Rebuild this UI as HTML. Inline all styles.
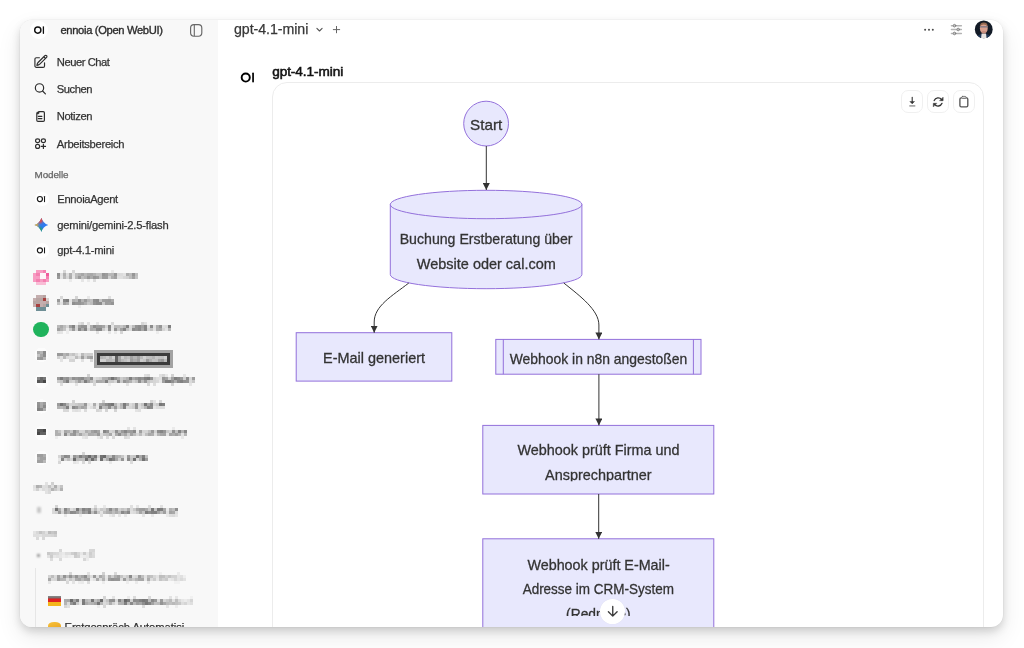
<!DOCTYPE html>
<html><head><meta charset="utf-8">
<style>
*{box-sizing:border-box;margin:0;padding:0}
html,body{width:1024px;height:648px;overflow:hidden;background:#fff;font-family:"Liberation Sans",sans-serif;color:#1a1a1a}
.win{position:absolute;left:20px;top:19.5px;width:983px;height:607.5px;border-radius:12px;overflow:hidden;background:#fff;box-shadow:0 0 0 0.5px rgba(0,0,0,.045),0 4px 9px rgba(0,0,0,.15),0 10px 24px rgba(0,0,0,.09)}
.pg{position:absolute;left:-20px;top:-19.5px;width:1024px;height:648px;will-change:transform}
.sb{position:absolute;left:20px;top:19px;width:198px;height:610px;background:#f8f8f8}
.t{position:absolute;white-space:nowrap;line-height:1;-webkit-text-stroke:0.25px currentColor}
.ic{position:absolute}
.blur{filter:blur(1.1px)}
svg{position:absolute;left:0;top:0;overflow:visible}
</style></head><body>
<div class="win"><div class="pg">
<div class="sb"></div>
<div class="ic" style="left:30px;top:21px;width:18px;height:18px;border-radius:50%;background:#fff"></div>
<svg width="1024" height="648"><g transform="translate(34,26.2) scale(1)"><circle cx="3.8" cy="3.85" r="3.1" fill="none" stroke="#111" stroke-width="1.45"/><rect x="8.75" y="0" width="1.3" height="7.7" rx="0.6" fill="#111"/></g></svg>
<div class="t" style="left:60.50px;top:24.53px;font-size:11.2px;letter-spacing:-0.347px;color:#2c2c2c;-webkit-text-stroke:0.35px #2c2c2c;">ennoia (Open WebUI)</div>
<svg width="1024" height="648"><rect x="190.6" y="24.6" width="11.2" height="11.6" rx="3.4" fill="none" stroke="#666" stroke-width="1.15"/><line x1="194.3" y1="24.8" x2="194.3" y2="36" stroke="#666" stroke-width="1.1"/></svg>
<div class="t" style="left:56.80px;top:56.63px;font-size:11.2px;letter-spacing:-0.454px;color:#333;">Neuer Chat</div>
<div class="t" style="left:56.80px;top:83.83px;font-size:11.2px;letter-spacing:-0.454px;color:#333;">Suchen</div>
<div class="t" style="left:56.80px;top:111.13px;font-size:11.2px;letter-spacing:-0.378px;color:#333;">Notizen</div>
<div class="t" style="left:56.80px;top:138.53px;font-size:11.2px;letter-spacing:-0.290px;color:#333;">Arbeitsbereich</div>
<svg width="1024" height="648" fill="none" stroke="#2e2e2e" stroke-linecap="round" stroke-linejoin="round">
<g transform="translate(33,53.9) scale(0.64)" stroke-width="1.85"><path d="m16.862 4.487 1.687-1.688a1.875 1.875 0 1 1 2.652 2.652L10.582 16.07a4.5 4.5 0 0 1-1.897 1.13L6 18l.8-2.685a4.5 4.5 0 0 1 1.13-1.897l8.932-8.931Zm0 0L19.5 7.125M18 14v4.75A2.25 2.25 0 0 1 15.75 21H5.25A2.25 2.25 0 0 1 3 18.75V8.25A2.25 2.25 0 0 1 5.25 6H10"/></g>
<g stroke-width="1.2"><circle cx="39.5" cy="87.9" r="4.15"/><path d="M42.6 91 L45.4 93.9"/></g>
<g stroke-width="1.2"><path d="M38.9 111.6 H43.2 a1.2 1.2 0 0 1 1.2 1.2 V120.2 a1.2 1.2 0 0 1 -1.2 1.2 H38 a1.2 1.2 0 0 1 -1.2 -1.2 V113.9 Z"/><path d="M38.3 116.3 H41.9 M38.3 118.6 H41.9"/></g>
<path d="M37.2 112.3 L39 112.1 L38.9 113.6 L37.3 113.8 Z" fill="#2e2e2e" stroke-width="0.8"/>
<g stroke-width="1.2"><ellipse cx="37.6" cy="140.7" rx="2.05" ry="1.85"/><ellipse cx="43.4" cy="140.7" rx="2.05" ry="1.85"/><ellipse cx="37.6" cy="146.4" rx="2.05" ry="1.95"/><path d="M43.4 144.3 V148.5 M41.3 146.4 H45.5"/></g>
</svg>
<div class="t" style="left:34.60px;top:169.73px;font-size:9.9px;letter-spacing:-0.108px;color:#666;">Modelle</div>
<div class="t" style="left:57.30px;top:194.03px;font-size:11.2px;letter-spacing:-0.322px;color:#333;">EnnoiaAgent</div>
<div class="t" style="left:57.30px;top:219.73px;font-size:11.2px;letter-spacing:-0.196px;color:#333;">gemini/gemini-2.5-flash</div>
<div class="t" style="left:57.30px;top:245.33px;font-size:11.2px;letter-spacing:-0.203px;color:#333;">gpt-4.1-mini</div>
<div class="ic" style="left:34.6px;top:192.1px;width:14.2px;height:14.2px;border-radius:50%;background:#fff"></div>
<svg width="1024" height="648"><g transform="translate(36.8,195.9) scale(0.82)"><circle cx="3.8" cy="3.85" r="3.1" fill="none" stroke="#1a1a1a" stroke-width="1.45"/><rect x="8.75" y="0" width="1.3" height="7.7" rx="0.6" fill="#1a1a1a"/></g></svg>
<div class="ic" style="left:34.6px;top:243.4px;width:14.2px;height:14.2px;border-radius:50%;background:#fff"></div>
<svg width="1024" height="648"><g transform="translate(36.8,247.20000000000002) scale(0.82)"><circle cx="3.8" cy="3.85" r="3.1" fill="none" stroke="#1a1a1a" stroke-width="1.45"/><rect x="8.75" y="0" width="1.3" height="7.7" rx="0.6" fill="#1a1a1a"/></g></svg>
<svg width="1024" height="648"><defs><clipPath id="gst"><path d="M41.4 217.8 Q42.95 223.4 48.3 225 Q42.95 226.6 41.4 232.1 Q39.85 226.6 34.4 225 Q39.85 223.4 41.4 217.8 Z"/></clipPath>
<filter id="gbl" x="-50%" y="-50%" width="200%" height="200%"><feGaussianBlur stdDeviation="1.1"/></filter></defs>
<g clip-path="url(#gst)"><rect x="33" y="216" width="17" height="17" fill="#2f7bf0"/>
<g filter="url(#gbl)"><ellipse cx="39.8" cy="219.2" rx="3.2" ry="4" fill="#ec4a3c"/><ellipse cx="34.8" cy="225" rx="3.4" ry="2.8" fill="#f5b52a"/><ellipse cx="39" cy="230.4" rx="3.2" ry="3.4" fill="#22a35a"/></g></g>
</svg>
<svg width="1024" height="648" shape-rendering="crispEdges" style="filter:blur(0.6px)"><rect x="36.40" y="269.60" width="3.1" height="3.1" fill="#f79cc2"/><rect x="39.50" y="269.60" width="3.1" height="3.1" fill="#f79cc2"/><rect x="42.60" y="269.60" width="3.1" height="3.1" fill="#f47fb0"/><rect x="33.30" y="272.70" width="3.1" height="3.1" fill="#f79cc2"/><rect x="36.40" y="272.70" width="3.1" height="3.1" fill="#f47fb0"/><rect x="39.50" y="272.70" width="3.1" height="3.1" fill="#fdf5f8"/><rect x="42.60" y="272.70" width="3.1" height="3.1" fill="#fdf5f8"/><rect x="45.70" y="272.70" width="3.1" height="3.1" fill="#ef5b9c"/><rect x="33.30" y="275.80" width="3.1" height="3.1" fill="#f79cc2"/><rect x="36.40" y="275.80" width="3.1" height="3.1" fill="#f79cc2"/><rect x="39.50" y="275.80" width="3.1" height="3.1" fill="#fdf5f8"/><rect x="42.60" y="275.80" width="3.1" height="3.1" fill="#fdf5f8"/><rect x="45.70" y="275.80" width="3.1" height="3.1" fill="#f47fb0"/><rect x="33.30" y="278.90" width="3.1" height="3.1" fill="#f79cc2"/><rect x="36.40" y="278.90" width="3.1" height="3.1" fill="#f47fb0"/><rect x="39.50" y="278.90" width="3.1" height="3.1" fill="#f79cc2"/><rect x="42.60" y="278.90" width="3.1" height="3.1" fill="#f47fb0"/><rect x="45.70" y="278.90" width="3.1" height="3.1" fill="#f79cc2"/><rect x="36.40" y="282.00" width="3.1" height="3.1" fill="#f9bcd5"/><rect x="39.50" y="282.00" width="3.1" height="3.1" fill="#f9bcd5"/><rect x="42.60" y="282.00" width="3.1" height="3.1" fill="#f9bcd5"/><rect x="36.40" y="295.00" width="3.1" height="3.1" fill="#c4aeae"/><rect x="39.50" y="295.00" width="3.1" height="3.1" fill="#c4aeae"/><rect x="42.60" y="295.00" width="3.1" height="3.1" fill="#b7a4a2"/><rect x="33.30" y="298.10" width="3.1" height="3.1" fill="#c4aeae"/><rect x="36.40" y="298.10" width="3.1" height="3.1" fill="#b7a4a2"/><rect x="39.50" y="298.10" width="3.1" height="3.1" fill="#b7a4a2"/><rect x="42.60" y="298.10" width="3.1" height="3.1" fill="#a8403e"/><rect x="45.70" y="298.10" width="3.1" height="3.1" fill="#d8d2d0"/><rect x="33.30" y="301.20" width="3.1" height="3.1" fill="#b7a4a2"/><rect x="36.40" y="301.20" width="3.1" height="3.1" fill="#b7a4a2"/><rect x="39.50" y="301.20" width="3.1" height="3.1" fill="#c4aeae"/><rect x="42.60" y="301.20" width="3.1" height="3.1" fill="#c4aeae"/><rect x="45.70" y="301.20" width="3.1" height="3.1" fill="#b7a4a2"/><rect x="33.30" y="304.30" width="3.1" height="3.1" fill="#c4aeae"/><rect x="36.40" y="304.30" width="3.1" height="3.1" fill="#a8403e"/><rect x="39.50" y="304.30" width="3.1" height="3.1" fill="#c4aeae"/><rect x="42.60" y="304.30" width="3.1" height="3.1" fill="#b7a4a2"/><rect x="45.70" y="304.30" width="3.1" height="3.1" fill="#6f8f96"/><rect x="36.40" y="307.40" width="3.1" height="3.1" fill="#6f8f96"/><rect x="39.50" y="307.40" width="3.1" height="3.1" fill="#6f8f96"/><rect x="42.60" y="307.40" width="3.1" height="3.1" fill="#6f8f96"/></svg>
<div class="ic" style="left:33.4px;top:321.5px;width:15.4px;height:15.2px;border-radius:50%;background:#20b35c;filter:blur(0.4px)"></div>
<svg width="1024" height="648" shape-rendering="crispEdges" style="filter:blur(0.65px)"><rect x="57.0" y="273.4" width="3.0" height="3" fill="#909090"/><rect x="57.0" y="276.4" width="3.0" height="3" fill="#9a9a9a"/><rect x="60.0" y="273.4" width="3.0" height="3" fill="#e1e1e1"/><rect x="60.0" y="276.4" width="3.0" height="3" fill="#e5e5e5"/><rect x="63.0" y="270.4" width="3.0" height="3" fill="#d7d7d7"/><rect x="63.0" y="273.4" width="3.0" height="3" fill="#b1b1b1"/><rect x="63.0" y="276.4" width="3.0" height="3" fill="#b8b8b8"/><rect x="66.0" y="273.4" width="3.0" height="3" fill="#dddddd"/><rect x="66.0" y="276.4" width="3.0" height="3" fill="#d7d7d7"/><rect x="69.0" y="273.4" width="3.0" height="3" fill="#b0b0b0"/><rect x="69.0" y="276.4" width="3.0" height="3" fill="#ababab"/><rect x="69.0" y="279.4" width="3.0" height="3" fill="#eaeaea"/><rect x="72.0" y="270.4" width="3.0" height="3" fill="#d6d6d6"/><rect x="72.0" y="273.4" width="3.0" height="3" fill="#e1e1e1"/><rect x="72.0" y="276.4" width="3.0" height="3" fill="#e6e6e6"/><rect x="75.0" y="273.4" width="3.0" height="3" fill="#bdbdbd"/><rect x="75.0" y="276.4" width="3.0" height="3" fill="#b8b8b8"/><rect x="78.0" y="273.4" width="3.0" height="3" fill="#b2b2b2"/><rect x="78.0" y="276.4" width="3.0" height="3" fill="#9b9b9b"/><rect x="81.0" y="273.4" width="3.0" height="3" fill="#a6a6a6"/><rect x="81.0" y="276.4" width="3.0" height="3" fill="#bebebe"/><rect x="81.0" y="279.4" width="3.0" height="3" fill="#e5e5e5"/><rect x="84.0" y="273.4" width="3.0" height="3" fill="#b8b8b8"/><rect x="84.0" y="276.4" width="3.0" height="3" fill="#b3b3b3"/><rect x="87.0" y="273.4" width="3.0" height="3" fill="#aaaaaa"/><rect x="87.0" y="276.4" width="3.0" height="3" fill="#989898"/><rect x="87.0" y="279.4" width="3.0" height="3" fill="#eaeaea"/><rect x="90.0" y="273.4" width="3.0" height="3" fill="#a8a8a8"/><rect x="90.0" y="276.4" width="3.0" height="3" fill="#acacac"/><rect x="93.0" y="273.4" width="3.0" height="3" fill="#b3b3b3"/><rect x="93.0" y="276.4" width="3.0" height="3" fill="#979797"/><rect x="93.0" y="279.4" width="3.0" height="3" fill="#dddddd"/><rect x="96.0" y="273.4" width="3.0" height="3" fill="#c3c3c3"/><rect x="96.0" y="276.4" width="3.0" height="3" fill="#9e9e9e"/><rect x="99.0" y="273.4" width="3.0" height="3" fill="#c3c3c3"/><rect x="99.0" y="276.4" width="3.0" height="3" fill="#c1c1c1"/><rect x="102.0" y="273.4" width="3.0" height="3" fill="#959595"/><rect x="102.0" y="276.4" width="3.0" height="3" fill="#9d9d9d"/><rect x="105.0" y="273.4" width="3.0" height="3" fill="#9c9c9c"/><rect x="105.0" y="276.4" width="3.0" height="3" fill="#9d9d9d"/><rect x="108.0" y="273.4" width="3.0" height="3" fill="#b8b8b8"/><rect x="108.0" y="276.4" width="3.0" height="3" fill="#d0d0d0"/><rect x="111.0" y="270.4" width="3.0" height="3" fill="#e8e8e8"/><rect x="111.0" y="273.4" width="3.0" height="3" fill="#b7b7b7"/><rect x="111.0" y="276.4" width="3.0" height="3" fill="#adadad"/><rect x="114.0" y="273.4" width="3.0" height="3" fill="#989898"/><rect x="114.0" y="276.4" width="3.0" height="3" fill="#a1a1a1"/><rect x="117.0" y="273.4" width="3.0" height="3" fill="#d8d8d8"/><rect x="117.0" y="276.4" width="3.0" height="3" fill="#dfdfdf"/><rect x="120.0" y="273.4" width="3.0" height="3" fill="#dcdcdc"/><rect x="120.0" y="276.4" width="3.0" height="3" fill="#dfdfdf"/><rect x="123.0" y="273.4" width="3.0" height="3" fill="#e3e3e3"/><rect x="123.0" y="276.4" width="3.0" height="3" fill="#d7d7d7"/><rect x="126.0" y="273.4" width="3.0" height="3" fill="#adadad"/><rect x="126.0" y="276.4" width="3.0" height="3" fill="#d0d0d0"/><rect x="129.0" y="273.4" width="3.0" height="3" fill="#bcbcbc"/><rect x="129.0" y="276.4" width="3.0" height="3" fill="#bdbdbd"/><rect x="132.0" y="273.4" width="3.0" height="3" fill="#969696"/><rect x="132.0" y="276.4" width="3.0" height="3" fill="#a2a2a2"/><rect x="135.0" y="273.4" width="3.0" height="3" fill="#bfbfbf"/><rect x="135.0" y="276.4" width="3.0" height="3" fill="#c4c4c4"/><rect x="57.0" y="299.4" width="3.0" height="3" fill="#999999"/><rect x="57.0" y="302.4" width="3.0" height="3" fill="#c3c3c3"/><rect x="60.0" y="296.4" width="3.0" height="3" fill="#d8d8d8"/><rect x="60.0" y="299.4" width="3.0" height="3" fill="#eaeaea"/><rect x="60.0" y="302.4" width="3.0" height="3" fill="#e2e2e2"/><rect x="63.0" y="299.4" width="3.0" height="3" fill="#868686"/><rect x="63.0" y="302.4" width="3.0" height="3" fill="#a1a1a1"/><rect x="66.0" y="299.4" width="3.0" height="3" fill="#7c7c7c"/><rect x="66.0" y="302.4" width="3.0" height="3" fill="#b0b0b0"/><rect x="69.0" y="299.4" width="3.0" height="3" fill="#e3e3e3"/><rect x="69.0" y="302.4" width="3.0" height="3" fill="#e8e8e8"/><rect x="72.0" y="299.4" width="3.0" height="3" fill="#afafaf"/><rect x="72.0" y="302.4" width="3.0" height="3" fill="#8e8e8e"/><rect x="75.0" y="296.4" width="3.0" height="3" fill="#d4d4d4"/><rect x="75.0" y="299.4" width="3.0" height="3" fill="#b7b7b7"/><rect x="75.0" y="302.4" width="3.0" height="3" fill="#969696"/><rect x="78.0" y="299.4" width="3.0" height="3" fill="#8f8f8f"/><rect x="78.0" y="302.4" width="3.0" height="3" fill="#949494"/><rect x="78.0" y="305.4" width="3.0" height="3" fill="#ebebeb"/><rect x="81.0" y="299.4" width="3.0" height="3" fill="#b3b3b3"/><rect x="81.0" y="302.4" width="3.0" height="3" fill="#9c9c9c"/><rect x="84.0" y="299.4" width="3.0" height="3" fill="#9a9a9a"/><rect x="84.0" y="302.4" width="3.0" height="3" fill="#adadad"/><rect x="87.0" y="296.4" width="3.0" height="3" fill="#e7e7e7"/><rect x="87.0" y="299.4" width="3.0" height="3" fill="#b6b6b6"/><rect x="87.0" y="302.4" width="3.0" height="3" fill="#c6c6c6"/><rect x="90.0" y="299.4" width="3.0" height="3" fill="#bfbfbf"/><rect x="90.0" y="302.4" width="3.0" height="3" fill="#bcbcbc"/><rect x="93.0" y="299.4" width="3.0" height="3" fill="#8e8e8e"/><rect x="93.0" y="302.4" width="3.0" height="3" fill="#939393"/><rect x="96.0" y="299.4" width="3.0" height="3" fill="#898989"/><rect x="96.0" y="302.4" width="3.0" height="3" fill="#8b8b8b"/><rect x="99.0" y="299.4" width="3.0" height="3" fill="#c3c3c3"/><rect x="99.0" y="302.4" width="3.0" height="3" fill="#8c8c8c"/><rect x="102.0" y="299.4" width="3.0" height="3" fill="#9f9f9f"/><rect x="102.0" y="302.4" width="3.0" height="3" fill="#c8c8c8"/><rect x="105.0" y="299.4" width="3.0" height="3" fill="#9d9d9d"/><rect x="105.0" y="302.4" width="3.0" height="3" fill="#9d9d9d"/><rect x="108.0" y="296.4" width="3.0" height="3" fill="#dedede"/><rect x="108.0" y="299.4" width="3.0" height="3" fill="#9a9a9a"/><rect x="108.0" y="302.4" width="3.0" height="3" fill="#9f9f9f"/><rect x="111.0" y="299.4" width="3.0" height="3" fill="#aaaaaa"/><rect x="111.0" y="302.4" width="3.0" height="3" fill="#959595"/><rect x="57.0" y="325.2" width="3.0" height="3" fill="#bababa"/><rect x="57.0" y="328.2" width="3.0" height="3" fill="#a0a0a0"/><rect x="57.0" y="331.2" width="3.0" height="3" fill="#e1e1e1"/><rect x="60.0" y="325.2" width="3.0" height="3" fill="#a9a9a9"/><rect x="60.0" y="328.2" width="3.0" height="3" fill="#b2b2b2"/><rect x="60.0" y="331.2" width="3.0" height="3" fill="#e5e5e5"/><rect x="63.0" y="325.2" width="3.0" height="3" fill="#bebebe"/><rect x="63.0" y="328.2" width="3.0" height="3" fill="#c5c5c5"/><rect x="66.0" y="325.2" width="3.0" height="3" fill="#d6d6d6"/><rect x="66.0" y="328.2" width="3.0" height="3" fill="#ececec"/><rect x="66.0" y="331.2" width="3.0" height="3" fill="#ececec"/><rect x="69.0" y="325.2" width="3.0" height="3" fill="#9d9d9d"/><rect x="69.0" y="328.2" width="3.0" height="3" fill="#c8c8c8"/><rect x="72.0" y="325.2" width="3.0" height="3" fill="#838383"/><rect x="72.0" y="328.2" width="3.0" height="3" fill="#9b9b9b"/><rect x="75.0" y="325.2" width="3.0" height="3" fill="#d6d6d6"/><rect x="75.0" y="328.2" width="3.0" height="3" fill="#d6d6d6"/><rect x="78.0" y="322.2" width="3.0" height="3" fill="#e1e1e1"/><rect x="78.0" y="325.2" width="3.0" height="3" fill="#9e9e9e"/><rect x="78.0" y="328.2" width="3.0" height="3" fill="#898989"/><rect x="81.0" y="322.2" width="3.0" height="3" fill="#d5d5d5"/><rect x="81.0" y="325.2" width="3.0" height="3" fill="#939393"/><rect x="81.0" y="328.2" width="3.0" height="3" fill="#ababab"/><rect x="84.0" y="325.2" width="3.0" height="3" fill="#929292"/><rect x="84.0" y="328.2" width="3.0" height="3" fill="#868686"/><rect x="87.0" y="322.2" width="3.0" height="3" fill="#e0e0e0"/><rect x="87.0" y="325.2" width="3.0" height="3" fill="#e4e4e4"/><rect x="87.0" y="328.2" width="3.0" height="3" fill="#d7d7d7"/><rect x="90.0" y="325.2" width="3.0" height="3" fill="#aeaeae"/><rect x="90.0" y="328.2" width="3.0" height="3" fill="#ababab"/><rect x="93.0" y="325.2" width="3.0" height="3" fill="#8d8d8d"/><rect x="93.0" y="328.2" width="3.0" height="3" fill="#b0b0b0"/><rect x="96.0" y="322.2" width="3.0" height="3" fill="#e4e4e4"/><rect x="96.0" y="325.2" width="3.0" height="3" fill="#9c9c9c"/><rect x="96.0" y="328.2" width="3.0" height="3" fill="#8b8b8b"/><rect x="96.0" y="331.2" width="3.0" height="3" fill="#e0e0e0"/><rect x="99.0" y="325.2" width="3.0" height="3" fill="#9b9b9b"/><rect x="99.0" y="328.2" width="3.0" height="3" fill="#898989"/><rect x="102.0" y="325.2" width="3.0" height="3" fill="#a6a6a6"/><rect x="102.0" y="328.2" width="3.0" height="3" fill="#cacaca"/><rect x="105.0" y="325.2" width="3.0" height="3" fill="#d4d4d4"/><rect x="105.0" y="328.2" width="3.0" height="3" fill="#e3e3e3"/><rect x="108.0" y="325.2" width="3.0" height="3" fill="#878787"/><rect x="108.0" y="328.2" width="3.0" height="3" fill="#8f8f8f"/><rect x="108.0" y="331.2" width="3.0" height="3" fill="#e6e6e6"/><rect x="111.0" y="322.2" width="3.0" height="3" fill="#d9d9d9"/><rect x="111.0" y="325.2" width="3.0" height="3" fill="#e6e6e6"/><rect x="111.0" y="328.2" width="3.0" height="3" fill="#e9e9e9"/><rect x="114.0" y="325.2" width="3.0" height="3" fill="#bbbbbb"/><rect x="114.0" y="328.2" width="3.0" height="3" fill="#969696"/><rect x="114.0" y="331.2" width="3.0" height="3" fill="#eaeaea"/><rect x="117.0" y="325.2" width="3.0" height="3" fill="#bcbcbc"/><rect x="117.0" y="328.2" width="3.0" height="3" fill="#c7c7c7"/><rect x="120.0" y="325.2" width="3.0" height="3" fill="#c6c6c6"/><rect x="120.0" y="328.2" width="3.0" height="3" fill="#a1a1a1"/><rect x="120.0" y="331.2" width="3.0" height="3" fill="#d5d5d5"/><rect x="123.0" y="325.2" width="3.0" height="3" fill="#b5b5b5"/><rect x="123.0" y="328.2" width="3.0" height="3" fill="#868686"/><rect x="126.0" y="325.2" width="3.0" height="3" fill="#848484"/><rect x="126.0" y="328.2" width="3.0" height="3" fill="#c4c4c4"/><rect x="129.0" y="325.2" width="3.0" height="3" fill="#dcdcdc"/><rect x="129.0" y="328.2" width="3.0" height="3" fill="#dbdbdb"/><rect x="132.0" y="325.2" width="3.0" height="3" fill="#bbbbbb"/><rect x="132.0" y="328.2" width="3.0" height="3" fill="#8d8d8d"/><rect x="135.0" y="325.2" width="3.0" height="3" fill="#959595"/><rect x="135.0" y="328.2" width="3.0" height="3" fill="#969696"/><rect x="138.0" y="325.2" width="3.0" height="3" fill="#8d8d8d"/><rect x="138.0" y="328.2" width="3.0" height="3" fill="#8b8b8b"/><rect x="141.0" y="322.2" width="3.0" height="3" fill="#d6d6d6"/><rect x="141.0" y="325.2" width="3.0" height="3" fill="#a1a1a1"/><rect x="141.0" y="328.2" width="3.0" height="3" fill="#a8a8a8"/><rect x="144.0" y="322.2" width="3.0" height="3" fill="#e1e1e1"/><rect x="144.0" y="325.2" width="3.0" height="3" fill="#868686"/><rect x="144.0" y="328.2" width="3.0" height="3" fill="#868686"/><rect x="147.0" y="325.2" width="3.0" height="3" fill="#e0e0e0"/><rect x="147.0" y="328.2" width="3.0" height="3" fill="#d6d6d6"/><rect x="150.0" y="325.2" width="3.0" height="3" fill="#8c8c8c"/><rect x="150.0" y="328.2" width="3.0" height="3" fill="#c5c5c5"/><rect x="153.0" y="325.2" width="3.0" height="3" fill="#e0e0e0"/><rect x="153.0" y="328.2" width="3.0" height="3" fill="#e3e3e3"/><rect x="156.0" y="325.2" width="3.0" height="3" fill="#acacac"/><rect x="156.0" y="328.2" width="3.0" height="3" fill="#aeaeae"/><rect x="156.0" y="331.2" width="3.0" height="3" fill="#ececec"/><rect x="159.0" y="325.2" width="3.0" height="3" fill="#959595"/><rect x="159.0" y="328.2" width="3.0" height="3" fill="#a9a9a9"/><rect x="162.0" y="325.2" width="3.0" height="3" fill="#dfdfdf"/><rect x="162.0" y="328.2" width="3.0" height="3" fill="#d5d5d5"/><rect x="165.0" y="325.2" width="3.0" height="3" fill="#dbdbdb"/><rect x="165.0" y="328.2" width="3.0" height="3" fill="#e4e4e4"/><rect x="168.0" y="325.2" width="3.0" height="3" fill="#7f7f7f"/><rect x="168.0" y="328.2" width="3.0" height="3" fill="#b7b7b7"/><rect x="57.0" y="352.5" width="3.0" height="3" fill="#9a9a9a"/><rect x="57.0" y="355.5" width="3.0" height="3" fill="#d0d0d0"/><rect x="60.0" y="352.5" width="3.0" height="3" fill="#9a9a9a"/><rect x="60.0" y="355.5" width="3.0" height="3" fill="#e2e2e2"/><rect x="60.0" y="358.5" width="3.0" height="3" fill="#e3e3e3"/><rect x="63.0" y="352.5" width="3.0" height="3" fill="#b5b5b5"/><rect x="63.0" y="355.5" width="3.0" height="3" fill="#bababa"/><rect x="66.0" y="352.5" width="3.0" height="3" fill="#a8a8a8"/><rect x="66.0" y="355.5" width="3.0" height="3" fill="#dcdcdc"/><rect x="69.0" y="352.5" width="3.0" height="3" fill="#cdcdcd"/><rect x="69.0" y="355.5" width="3.0" height="3" fill="#e2e2e2"/><rect x="69.0" y="358.5" width="3.0" height="3" fill="#d6d6d6"/><rect x="72.0" y="352.5" width="3.0" height="3" fill="#c3c3c3"/><rect x="72.0" y="355.5" width="3.0" height="3" fill="#e4e4e4"/><rect x="72.0" y="358.5" width="3.0" height="3" fill="#d4d4d4"/><rect x="75.0" y="352.5" width="3.0" height="3" fill="#d7d7d7"/><rect x="75.0" y="355.5" width="3.0" height="3" fill="#bebebe"/><rect x="78.0" y="352.5" width="3.0" height="3" fill="#e9e9e9"/><rect x="78.0" y="355.5" width="3.0" height="3" fill="#d6d6d6"/><rect x="81.0" y="352.5" width="3.0" height="3" fill="#bbbbbb"/><rect x="81.0" y="355.5" width="3.0" height="3" fill="#9e9e9e"/><rect x="81.0" y="358.5" width="3.0" height="3" fill="#e1e1e1"/><rect x="84.0" y="352.5" width="3.0" height="3" fill="#d2d2d2"/><rect x="84.0" y="355.5" width="3.0" height="3" fill="#cecece"/><rect x="87.0" y="352.5" width="3.0" height="3" fill="#cdcdcd"/><rect x="87.0" y="355.5" width="3.0" height="3" fill="#a9a9a9"/><rect x="90.0" y="352.5" width="3.0" height="3" fill="#cecece"/><rect x="90.0" y="355.5" width="3.0" height="3" fill="#a1a1a1"/><rect x="90.0" y="358.5" width="3.0" height="3" fill="#d8d8d8"/><rect x="57.0" y="377.0" width="3.0" height="3" fill="#9a9a9a"/><rect x="57.0" y="380.0" width="3.0" height="3" fill="#cccccc"/><rect x="60.0" y="377.0" width="3.0" height="3" fill="#7d7d7d"/><rect x="60.0" y="380.0" width="3.0" height="3" fill="#c6c6c6"/><rect x="60.0" y="383.0" width="3.0" height="3" fill="#dcdcdc"/><rect x="63.0" y="377.0" width="3.0" height="3" fill="#9a9a9a"/><rect x="63.0" y="380.0" width="3.0" height="3" fill="#9f9f9f"/><rect x="66.0" y="377.0" width="3.0" height="3" fill="#929292"/><rect x="66.0" y="380.0" width="3.0" height="3" fill="#7f7f7f"/><rect x="69.0" y="377.0" width="3.0" height="3" fill="#b3b3b3"/><rect x="69.0" y="380.0" width="3.0" height="3" fill="#cecece"/><rect x="72.0" y="377.0" width="3.0" height="3" fill="#919191"/><rect x="72.0" y="380.0" width="3.0" height="3" fill="#d5d5d5"/><rect x="75.0" y="377.0" width="3.0" height="3" fill="#999999"/><rect x="75.0" y="380.0" width="3.0" height="3" fill="#bcbcbc"/><rect x="75.0" y="383.0" width="3.0" height="3" fill="#e3e3e3"/><rect x="78.0" y="377.0" width="3.0" height="3" fill="#919191"/><rect x="78.0" y="380.0" width="3.0" height="3" fill="#9d9d9d"/><rect x="81.0" y="377.0" width="3.0" height="3" fill="#8b8b8b"/><rect x="81.0" y="380.0" width="3.0" height="3" fill="#bababa"/><rect x="84.0" y="377.0" width="3.0" height="3" fill="#a6a6a6"/><rect x="84.0" y="380.0" width="3.0" height="3" fill="#7f7f7f"/><rect x="87.0" y="374.0" width="3.0" height="3" fill="#d1d1d1"/><rect x="87.0" y="377.0" width="3.0" height="3" fill="#adadad"/><rect x="87.0" y="380.0" width="3.0" height="3" fill="#a4a4a4"/><rect x="90.0" y="377.0" width="3.0" height="3" fill="#8b8b8b"/><rect x="90.0" y="380.0" width="3.0" height="3" fill="#bfbfbf"/><rect x="93.0" y="377.0" width="3.0" height="3" fill="#dedede"/><rect x="93.0" y="380.0" width="3.0" height="3" fill="#d4d4d4"/><rect x="93.0" y="383.0" width="3.0" height="3" fill="#d6d6d6"/><rect x="96.0" y="377.0" width="3.0" height="3" fill="#d5d5d5"/><rect x="96.0" y="380.0" width="3.0" height="3" fill="#a9a9a9"/><rect x="99.0" y="377.0" width="3.0" height="3" fill="#cecece"/><rect x="99.0" y="380.0" width="3.0" height="3" fill="#ababab"/><rect x="102.0" y="377.0" width="3.0" height="3" fill="#b0b0b0"/><rect x="102.0" y="380.0" width="3.0" height="3" fill="#b0b0b0"/><rect x="105.0" y="377.0" width="3.0" height="3" fill="#afafaf"/><rect x="105.0" y="380.0" width="3.0" height="3" fill="#838383"/><rect x="108.0" y="377.0" width="3.0" height="3" fill="#969696"/><rect x="108.0" y="380.0" width="3.0" height="3" fill="#cacaca"/><rect x="108.0" y="383.0" width="3.0" height="3" fill="#ebebeb"/><rect x="111.0" y="377.0" width="3.0" height="3" fill="#747474"/><rect x="111.0" y="380.0" width="3.0" height="3" fill="#c8c8c8"/><rect x="114.0" y="377.0" width="3.0" height="3" fill="#919191"/><rect x="114.0" y="380.0" width="3.0" height="3" fill="#d7d7d7"/><rect x="117.0" y="377.0" width="3.0" height="3" fill="#ababab"/><rect x="117.0" y="380.0" width="3.0" height="3" fill="#8c8c8c"/><rect x="120.0" y="377.0" width="3.0" height="3" fill="#cccccc"/><rect x="120.0" y="380.0" width="3.0" height="3" fill="#c9c9c9"/><rect x="123.0" y="377.0" width="3.0" height="3" fill="#c0c0c0"/><rect x="123.0" y="380.0" width="3.0" height="3" fill="#959595"/><rect x="126.0" y="377.0" width="3.0" height="3" fill="#b1b1b1"/><rect x="126.0" y="380.0" width="3.0" height="3" fill="#a5a5a5"/><rect x="126.0" y="383.0" width="3.0" height="3" fill="#e1e1e1"/><rect x="129.0" y="377.0" width="3.0" height="3" fill="#7e7e7e"/><rect x="129.0" y="380.0" width="3.0" height="3" fill="#b1b1b1"/><rect x="132.0" y="377.0" width="3.0" height="3" fill="#a9a9a9"/><rect x="132.0" y="380.0" width="3.0" height="3" fill="#d2d2d2"/><rect x="135.0" y="377.0" width="3.0" height="3" fill="#999999"/><rect x="135.0" y="380.0" width="3.0" height="3" fill="#c4c4c4"/><rect x="138.0" y="377.0" width="3.0" height="3" fill="#8b8b8b"/><rect x="138.0" y="380.0" width="3.0" height="3" fill="#8f8f8f"/><rect x="141.0" y="377.0" width="3.0" height="3" fill="#949494"/><rect x="141.0" y="380.0" width="3.0" height="3" fill="#bcbcbc"/><rect x="144.0" y="374.0" width="3.0" height="3" fill="#dedede"/><rect x="144.0" y="377.0" width="3.0" height="3" fill="#818181"/><rect x="144.0" y="380.0" width="3.0" height="3" fill="#999999"/><rect x="147.0" y="374.0" width="3.0" height="3" fill="#d9d9d9"/><rect x="147.0" y="377.0" width="3.0" height="3" fill="#7a7a7a"/><rect x="147.0" y="380.0" width="3.0" height="3" fill="#c6c6c6"/><rect x="147.0" y="383.0" width="3.0" height="3" fill="#d6d6d6"/><rect x="150.0" y="377.0" width="3.0" height="3" fill="#959595"/><rect x="150.0" y="380.0" width="3.0" height="3" fill="#d1d1d1"/><rect x="153.0" y="377.0" width="3.0" height="3" fill="#d5d5d5"/><rect x="153.0" y="380.0" width="3.0" height="3" fill="#d5d5d5"/><rect x="153.0" y="383.0" width="3.0" height="3" fill="#dcdcdc"/><rect x="156.0" y="377.0" width="3.0" height="3" fill="#dedede"/><rect x="156.0" y="380.0" width="3.0" height="3" fill="#d9d9d9"/><rect x="159.0" y="374.0" width="3.0" height="3" fill="#dfdfdf"/><rect x="159.0" y="377.0" width="3.0" height="3" fill="#e1e1e1"/><rect x="159.0" y="380.0" width="3.0" height="3" fill="#e9e9e9"/><rect x="162.0" y="374.0" width="3.0" height="3" fill="#d5d5d5"/><rect x="162.0" y="377.0" width="3.0" height="3" fill="#969696"/><rect x="162.0" y="380.0" width="3.0" height="3" fill="#a0a0a0"/><rect x="165.0" y="374.0" width="3.0" height="3" fill="#e7e7e7"/><rect x="165.0" y="377.0" width="3.0" height="3" fill="#a1a1a1"/><rect x="165.0" y="380.0" width="3.0" height="3" fill="#7e7e7e"/><rect x="168.0" y="377.0" width="3.0" height="3" fill="#d1d1d1"/><rect x="168.0" y="380.0" width="3.0" height="3" fill="#7c7c7c"/><rect x="171.0" y="374.0" width="3.0" height="3" fill="#d2d2d2"/><rect x="171.0" y="377.0" width="3.0" height="3" fill="#a2a2a2"/><rect x="171.0" y="380.0" width="3.0" height="3" fill="#909090"/><rect x="171.0" y="383.0" width="3.0" height="3" fill="#d5d5d5"/><rect x="174.0" y="377.0" width="3.0" height="3" fill="#7f7f7f"/><rect x="174.0" y="380.0" width="3.0" height="3" fill="#ababab"/><rect x="177.0" y="377.0" width="3.0" height="3" fill="#898989"/><rect x="177.0" y="380.0" width="3.0" height="3" fill="#898989"/><rect x="180.0" y="377.0" width="3.0" height="3" fill="#9a9a9a"/><rect x="180.0" y="380.0" width="3.0" height="3" fill="#818181"/><rect x="183.0" y="374.0" width="3.0" height="3" fill="#e4e4e4"/><rect x="183.0" y="377.0" width="3.0" height="3" fill="#cfcfcf"/><rect x="183.0" y="380.0" width="3.0" height="3" fill="#909090"/><rect x="186.0" y="377.0" width="3.0" height="3" fill="#8d8d8d"/><rect x="186.0" y="380.0" width="3.0" height="3" fill="#939393"/><rect x="189.0" y="377.0" width="3.0" height="3" fill="#d7d7d7"/><rect x="189.0" y="380.0" width="3.0" height="3" fill="#dadada"/><rect x="189.0" y="383.0" width="3.0" height="3" fill="#e5e5e5"/><rect x="192.0" y="377.0" width="3.0" height="3" fill="#9d9d9d"/><rect x="192.0" y="380.0" width="3.0" height="3" fill="#c8c8c8"/><rect x="57.0" y="403.0" width="3.0" height="3" fill="#9b9b9b"/><rect x="57.0" y="406.0" width="3.0" height="3" fill="#b2b2b2"/><rect x="60.0" y="403.0" width="3.0" height="3" fill="#747474"/><rect x="60.0" y="406.0" width="3.0" height="3" fill="#bababa"/><rect x="63.0" y="403.0" width="3.0" height="3" fill="#8a8a8a"/><rect x="63.0" y="406.0" width="3.0" height="3" fill="#afafaf"/><rect x="63.0" y="409.0" width="3.0" height="3" fill="#d8d8d8"/><rect x="66.0" y="403.0" width="3.0" height="3" fill="#b4b4b4"/><rect x="66.0" y="406.0" width="3.0" height="3" fill="#818181"/><rect x="66.0" y="409.0" width="3.0" height="3" fill="#d8d8d8"/><rect x="69.0" y="403.0" width="3.0" height="3" fill="#d6d6d6"/><rect x="69.0" y="406.0" width="3.0" height="3" fill="#e0e0e0"/><rect x="72.0" y="400.0" width="3.0" height="3" fill="#d2d2d2"/><rect x="72.0" y="403.0" width="3.0" height="3" fill="#d1d1d1"/><rect x="72.0" y="406.0" width="3.0" height="3" fill="#8a8a8a"/><rect x="72.0" y="409.0" width="3.0" height="3" fill="#e3e3e3"/><rect x="75.0" y="403.0" width="3.0" height="3" fill="#cbcbcb"/><rect x="75.0" y="406.0" width="3.0" height="3" fill="#989898"/><rect x="75.0" y="409.0" width="3.0" height="3" fill="#dfdfdf"/><rect x="78.0" y="403.0" width="3.0" height="3" fill="#c2c2c2"/><rect x="78.0" y="406.0" width="3.0" height="3" fill="#b6b6b6"/><rect x="78.0" y="409.0" width="3.0" height="3" fill="#e4e4e4"/><rect x="81.0" y="403.0" width="3.0" height="3" fill="#c2c2c2"/><rect x="81.0" y="406.0" width="3.0" height="3" fill="#a4a4a4"/><rect x="84.0" y="403.0" width="3.0" height="3" fill="#979797"/><rect x="84.0" y="406.0" width="3.0" height="3" fill="#acacac"/><rect x="84.0" y="409.0" width="3.0" height="3" fill="#dcdcdc"/><rect x="87.0" y="403.0" width="3.0" height="3" fill="#e2e2e2"/><rect x="87.0" y="406.0" width="3.0" height="3" fill="#eaeaea"/><rect x="90.0" y="403.0" width="3.0" height="3" fill="#ebebeb"/><rect x="90.0" y="406.0" width="3.0" height="3" fill="#e0e0e0"/><rect x="93.0" y="403.0" width="3.0" height="3" fill="#acacac"/><rect x="93.0" y="406.0" width="3.0" height="3" fill="#cacaca"/><rect x="96.0" y="403.0" width="3.0" height="3" fill="#e6e6e6"/><rect x="96.0" y="406.0" width="3.0" height="3" fill="#ebebeb"/><rect x="96.0" y="409.0" width="3.0" height="3" fill="#d5d5d5"/><rect x="99.0" y="403.0" width="3.0" height="3" fill="#a9a9a9"/><rect x="99.0" y="406.0" width="3.0" height="3" fill="#828282"/><rect x="99.0" y="409.0" width="3.0" height="3" fill="#dbdbdb"/><rect x="102.0" y="400.0" width="3.0" height="3" fill="#d1d1d1"/><rect x="102.0" y="403.0" width="3.0" height="3" fill="#a1a1a1"/><rect x="102.0" y="406.0" width="3.0" height="3" fill="#bebebe"/><rect x="105.0" y="403.0" width="3.0" height="3" fill="#8e8e8e"/><rect x="105.0" y="406.0" width="3.0" height="3" fill="#b8b8b8"/><rect x="105.0" y="409.0" width="3.0" height="3" fill="#d4d4d4"/><rect x="108.0" y="403.0" width="3.0" height="3" fill="#808080"/><rect x="108.0" y="406.0" width="3.0" height="3" fill="#8e8e8e"/><rect x="111.0" y="403.0" width="3.0" height="3" fill="#757575"/><rect x="111.0" y="406.0" width="3.0" height="3" fill="#c3c3c3"/><rect x="114.0" y="403.0" width="3.0" height="3" fill="#b6b6b6"/><rect x="114.0" y="406.0" width="3.0" height="3" fill="#9b9b9b"/><rect x="114.0" y="409.0" width="3.0" height="3" fill="#d4d4d4"/><rect x="117.0" y="403.0" width="3.0" height="3" fill="#d9d9d9"/><rect x="117.0" y="406.0" width="3.0" height="3" fill="#d4d4d4"/><rect x="120.0" y="403.0" width="3.0" height="3" fill="#b6b6b6"/><rect x="120.0" y="406.0" width="3.0" height="3" fill="#bcbcbc"/><rect x="123.0" y="403.0" width="3.0" height="3" fill="#7c7c7c"/><rect x="123.0" y="406.0" width="3.0" height="3" fill="#828282"/><rect x="126.0" y="403.0" width="3.0" height="3" fill="#a4a4a4"/><rect x="126.0" y="406.0" width="3.0" height="3" fill="#dbdbdb"/><rect x="129.0" y="403.0" width="3.0" height="3" fill="#dcdcdc"/><rect x="129.0" y="406.0" width="3.0" height="3" fill="#d7d7d7"/><rect x="132.0" y="403.0" width="3.0" height="3" fill="#cfcfcf"/><rect x="132.0" y="406.0" width="3.0" height="3" fill="#cdcdcd"/><rect x="135.0" y="403.0" width="3.0" height="3" fill="#959595"/><rect x="135.0" y="406.0" width="3.0" height="3" fill="#979797"/><rect x="135.0" y="409.0" width="3.0" height="3" fill="#e4e4e4"/><rect x="138.0" y="403.0" width="3.0" height="3" fill="#dadada"/><rect x="138.0" y="406.0" width="3.0" height="3" fill="#dedede"/><rect x="138.0" y="409.0" width="3.0" height="3" fill="#e0e0e0"/><rect x="141.0" y="403.0" width="3.0" height="3" fill="#c4c4c4"/><rect x="141.0" y="406.0" width="3.0" height="3" fill="#d1d1d1"/><rect x="144.0" y="403.0" width="3.0" height="3" fill="#747474"/><rect x="144.0" y="406.0" width="3.0" height="3" fill="#b3b3b3"/><rect x="147.0" y="403.0" width="3.0" height="3" fill="#a6a6a6"/><rect x="147.0" y="406.0" width="3.0" height="3" fill="#858585"/><rect x="150.0" y="400.0" width="3.0" height="3" fill="#d3d3d3"/><rect x="150.0" y="403.0" width="3.0" height="3" fill="#888888"/><rect x="150.0" y="406.0" width="3.0" height="3" fill="#8e8e8e"/><rect x="153.0" y="400.0" width="3.0" height="3" fill="#e4e4e4"/><rect x="153.0" y="403.0" width="3.0" height="3" fill="#d6d6d6"/><rect x="153.0" y="406.0" width="3.0" height="3" fill="#e6e6e6"/><rect x="156.0" y="403.0" width="3.0" height="3" fill="#c9c9c9"/><rect x="156.0" y="406.0" width="3.0" height="3" fill="#dcdcdc"/><rect x="159.0" y="400.0" width="3.0" height="3" fill="#d6d6d6"/><rect x="159.0" y="403.0" width="3.0" height="3" fill="#787878"/><rect x="159.0" y="406.0" width="3.0" height="3" fill="#dcdcdc"/><rect x="162.0" y="403.0" width="3.0" height="3" fill="#808080"/><rect x="162.0" y="406.0" width="3.0" height="3" fill="#dcdcdc"/><rect x="55.2" y="429.5" width="3.0" height="3" fill="#b0b0b0"/><rect x="55.2" y="432.5" width="3.0" height="3" fill="#b0b0b0"/><rect x="55.2" y="435.5" width="3.0" height="3" fill="#ececec"/><rect x="58.2" y="429.5" width="3.0" height="3" fill="#c4c4c4"/><rect x="58.2" y="432.5" width="3.0" height="3" fill="#b0b0b0"/><rect x="61.2" y="429.5" width="3.0" height="3" fill="#dfdfdf"/><rect x="61.2" y="432.5" width="3.0" height="3" fill="#e5e5e5"/><rect x="64.2" y="429.5" width="3.0" height="3" fill="#a8a8a8"/><rect x="64.2" y="432.5" width="3.0" height="3" fill="#8c8c8c"/><rect x="67.2" y="429.5" width="3.0" height="3" fill="#b0b0b0"/><rect x="67.2" y="432.5" width="3.0" height="3" fill="#cacaca"/><rect x="70.2" y="429.5" width="3.0" height="3" fill="#c5c5c5"/><rect x="70.2" y="432.5" width="3.0" height="3" fill="#a0a0a0"/><rect x="73.2" y="429.5" width="3.0" height="3" fill="#929292"/><rect x="73.2" y="432.5" width="3.0" height="3" fill="#969696"/><rect x="76.2" y="429.5" width="3.0" height="3" fill="#adadad"/><rect x="76.2" y="432.5" width="3.0" height="3" fill="#bfbfbf"/><rect x="79.2" y="429.5" width="3.0" height="3" fill="#d6d6d6"/><rect x="79.2" y="432.5" width="3.0" height="3" fill="#a6a6a6"/><rect x="82.2" y="429.5" width="3.0" height="3" fill="#d4d4d4"/><rect x="82.2" y="432.5" width="3.0" height="3" fill="#c6c6c6"/><rect x="82.2" y="435.5" width="3.0" height="3" fill="#e7e7e7"/><rect x="85.2" y="429.5" width="3.0" height="3" fill="#b0b0b0"/><rect x="85.2" y="432.5" width="3.0" height="3" fill="#cecece"/><rect x="85.2" y="435.5" width="3.0" height="3" fill="#e2e2e2"/><rect x="88.2" y="429.5" width="3.0" height="3" fill="#bcbcbc"/><rect x="88.2" y="432.5" width="3.0" height="3" fill="#acacac"/><rect x="91.2" y="429.5" width="3.0" height="3" fill="#a2a2a2"/><rect x="91.2" y="432.5" width="3.0" height="3" fill="#aeaeae"/><rect x="94.2" y="429.5" width="3.0" height="3" fill="#979797"/><rect x="94.2" y="432.5" width="3.0" height="3" fill="#b5b5b5"/><rect x="97.2" y="429.5" width="3.0" height="3" fill="#a5a5a5"/><rect x="97.2" y="432.5" width="3.0" height="3" fill="#999999"/><rect x="97.2" y="435.5" width="3.0" height="3" fill="#e9e9e9"/><rect x="100.2" y="429.5" width="3.0" height="3" fill="#ebebeb"/><rect x="100.2" y="432.5" width="3.0" height="3" fill="#dadada"/><rect x="100.2" y="435.5" width="3.0" height="3" fill="#d7d7d7"/><rect x="103.2" y="429.5" width="3.0" height="3" fill="#858585"/><rect x="103.2" y="432.5" width="3.0" height="3" fill="#c3c3c3"/><rect x="106.2" y="429.5" width="3.0" height="3" fill="#969696"/><rect x="106.2" y="432.5" width="3.0" height="3" fill="#bfbfbf"/><rect x="106.2" y="435.5" width="3.0" height="3" fill="#dbdbdb"/><rect x="109.2" y="429.5" width="3.0" height="3" fill="#d6d6d6"/><rect x="109.2" y="432.5" width="3.0" height="3" fill="#a9a9a9"/><rect x="112.2" y="429.5" width="3.0" height="3" fill="#cecece"/><rect x="112.2" y="432.5" width="3.0" height="3" fill="#e2e2e2"/><rect x="112.2" y="435.5" width="3.0" height="3" fill="#d7d7d7"/><rect x="115.2" y="429.5" width="3.0" height="3" fill="#909090"/><rect x="115.2" y="432.5" width="3.0" height="3" fill="#ababab"/><rect x="118.2" y="429.5" width="3.0" height="3" fill="#bababa"/><rect x="118.2" y="432.5" width="3.0" height="3" fill="#8e8e8e"/><rect x="121.2" y="429.5" width="3.0" height="3" fill="#9b9b9b"/><rect x="121.2" y="432.5" width="3.0" height="3" fill="#b5b5b5"/><rect x="124.2" y="429.5" width="3.0" height="3" fill="#888888"/><rect x="124.2" y="432.5" width="3.0" height="3" fill="#a7a7a7"/><rect x="124.2" y="435.5" width="3.0" height="3" fill="#dadada"/><rect x="127.2" y="426.5" width="3.0" height="3" fill="#e2e2e2"/><rect x="127.2" y="429.5" width="3.0" height="3" fill="#9e9e9e"/><rect x="127.2" y="432.5" width="3.0" height="3" fill="#cdcdcd"/><rect x="127.2" y="435.5" width="3.0" height="3" fill="#dfdfdf"/><rect x="130.2" y="429.5" width="3.0" height="3" fill="#9e9e9e"/><rect x="130.2" y="432.5" width="3.0" height="3" fill="#a3a3a3"/><rect x="133.2" y="426.5" width="3.0" height="3" fill="#e3e3e3"/><rect x="133.2" y="429.5" width="3.0" height="3" fill="#8b8b8b"/><rect x="133.2" y="432.5" width="3.0" height="3" fill="#bcbcbc"/><rect x="136.2" y="429.5" width="3.0" height="3" fill="#e9e9e9"/><rect x="136.2" y="432.5" width="3.0" height="3" fill="#d7d7d7"/><rect x="139.2" y="429.5" width="3.0" height="3" fill="#a0a0a0"/><rect x="139.2" y="432.5" width="3.0" height="3" fill="#bebebe"/><rect x="142.2" y="429.5" width="3.0" height="3" fill="#d5d5d5"/><rect x="142.2" y="432.5" width="3.0" height="3" fill="#dedede"/><rect x="145.2" y="429.5" width="3.0" height="3" fill="#d5d5d5"/><rect x="145.2" y="432.5" width="3.0" height="3" fill="#c0c0c0"/><rect x="148.2" y="429.5" width="3.0" height="3" fill="#c0c0c0"/><rect x="148.2" y="432.5" width="3.0" height="3" fill="#a9a9a9"/><rect x="151.2" y="429.5" width="3.0" height="3" fill="#9b9b9b"/><rect x="151.2" y="432.5" width="3.0" height="3" fill="#afafaf"/><rect x="154.2" y="429.5" width="3.0" height="3" fill="#d3d3d3"/><rect x="154.2" y="432.5" width="3.0" height="3" fill="#e0e0e0"/><rect x="157.2" y="429.5" width="3.0" height="3" fill="#8e8e8e"/><rect x="157.2" y="432.5" width="3.0" height="3" fill="#b5b5b5"/><rect x="160.2" y="429.5" width="3.0" height="3" fill="#858585"/><rect x="160.2" y="432.5" width="3.0" height="3" fill="#a6a6a6"/><rect x="163.2" y="429.5" width="3.0" height="3" fill="#969696"/><rect x="163.2" y="432.5" width="3.0" height="3" fill="#a3a3a3"/><rect x="166.2" y="429.5" width="3.0" height="3" fill="#c8c8c8"/><rect x="166.2" y="432.5" width="3.0" height="3" fill="#e4e4e4"/><rect x="169.2" y="429.5" width="3.0" height="3" fill="#d5d5d5"/><rect x="169.2" y="432.5" width="3.0" height="3" fill="#a5a5a5"/><rect x="172.2" y="426.5" width="3.0" height="3" fill="#eaeaea"/><rect x="172.2" y="429.5" width="3.0" height="3" fill="#929292"/><rect x="172.2" y="432.5" width="3.0" height="3" fill="#adadad"/><rect x="175.2" y="429.5" width="3.0" height="3" fill="#c1c1c1"/><rect x="175.2" y="432.5" width="3.0" height="3" fill="#9e9e9e"/><rect x="178.2" y="429.5" width="3.0" height="3" fill="#848484"/><rect x="178.2" y="432.5" width="3.0" height="3" fill="#b5b5b5"/><rect x="181.2" y="429.5" width="3.0" height="3" fill="#b3b3b3"/><rect x="181.2" y="432.5" width="3.0" height="3" fill="#e2e2e2"/><rect x="181.2" y="435.5" width="3.0" height="3" fill="#e8e8e8"/><rect x="184.2" y="429.5" width="3.0" height="3" fill="#898989"/><rect x="184.2" y="432.5" width="3.0" height="3" fill="#b6b6b6"/><rect x="57.9" y="455.0" width="3.0" height="3" fill="#d5d5d5"/><rect x="57.9" y="458.0" width="3.0" height="3" fill="#e8e8e8"/><rect x="57.9" y="461.0" width="3.0" height="3" fill="#d7d7d7"/><rect x="60.9" y="455.0" width="3.0" height="3" fill="#a7a7a7"/><rect x="60.9" y="458.0" width="3.0" height="3" fill="#868686"/><rect x="63.9" y="455.0" width="3.0" height="3" fill="#898989"/><rect x="63.9" y="458.0" width="3.0" height="3" fill="#d5d5d5"/><rect x="66.9" y="455.0" width="3.0" height="3" fill="#909090"/><rect x="66.9" y="458.0" width="3.0" height="3" fill="#bfbfbf"/><rect x="69.9" y="455.0" width="3.0" height="3" fill="#e6e6e6"/><rect x="69.9" y="458.0" width="3.0" height="3" fill="#d5d5d5"/><rect x="72.9" y="455.0" width="3.0" height="3" fill="#979797"/><rect x="72.9" y="458.0" width="3.0" height="3" fill="#6c6c6c"/><rect x="72.9" y="461.0" width="3.0" height="3" fill="#e3e3e3"/><rect x="75.9" y="455.0" width="3.0" height="3" fill="#a9a9a9"/><rect x="75.9" y="458.0" width="3.0" height="3" fill="#bababa"/><rect x="75.9" y="461.0" width="3.0" height="3" fill="#e9e9e9"/><rect x="78.9" y="455.0" width="3.0" height="3" fill="#7f7f7f"/><rect x="78.9" y="458.0" width="3.0" height="3" fill="#bdbdbd"/><rect x="81.9" y="452.0" width="3.0" height="3" fill="#d5d5d5"/><rect x="81.9" y="455.0" width="3.0" height="3" fill="#999999"/><rect x="81.9" y="458.0" width="3.0" height="3" fill="#bfbfbf"/><rect x="81.9" y="461.0" width="3.0" height="3" fill="#d8d8d8"/><rect x="84.9" y="455.0" width="3.0" height="3" fill="#8a8a8a"/><rect x="84.9" y="458.0" width="3.0" height="3" fill="#707070"/><rect x="87.9" y="455.0" width="3.0" height="3" fill="#6a6a6a"/><rect x="87.9" y="458.0" width="3.0" height="3" fill="#aeaeae"/><rect x="87.9" y="461.0" width="3.0" height="3" fill="#d7d7d7"/><rect x="90.9" y="455.0" width="3.0" height="3" fill="#979797"/><rect x="90.9" y="458.0" width="3.0" height="3" fill="#6d6d6d"/><rect x="93.9" y="455.0" width="3.0" height="3" fill="#777777"/><rect x="93.9" y="458.0" width="3.0" height="3" fill="#a0a0a0"/><rect x="96.9" y="455.0" width="3.0" height="3" fill="#d4d4d4"/><rect x="96.9" y="458.0" width="3.0" height="3" fill="#e9e9e9"/><rect x="99.9" y="455.0" width="3.0" height="3" fill="#737373"/><rect x="99.9" y="458.0" width="3.0" height="3" fill="#6e6e6e"/><rect x="102.9" y="455.0" width="3.0" height="3" fill="#6a6a6a"/><rect x="102.9" y="458.0" width="3.0" height="3" fill="#cbcbcb"/><rect x="105.9" y="455.0" width="3.0" height="3" fill="#b4b4b4"/><rect x="105.9" y="458.0" width="3.0" height="3" fill="#ababab"/><rect x="108.9" y="455.0" width="3.0" height="3" fill="#bfbfbf"/><rect x="108.9" y="458.0" width="3.0" height="3" fill="#737373"/><rect x="108.9" y="461.0" width="3.0" height="3" fill="#e8e8e8"/><rect x="111.9" y="455.0" width="3.0" height="3" fill="#8b8b8b"/><rect x="111.9" y="458.0" width="3.0" height="3" fill="#818181"/><rect x="114.9" y="455.0" width="3.0" height="3" fill="#adadad"/><rect x="114.9" y="458.0" width="3.0" height="3" fill="#a8a8a8"/><rect x="117.9" y="455.0" width="3.0" height="3" fill="#b6b6b6"/><rect x="117.9" y="458.0" width="3.0" height="3" fill="#d2d2d2"/><rect x="120.9" y="455.0" width="3.0" height="3" fill="#c8c8c8"/><rect x="120.9" y="458.0" width="3.0" height="3" fill="#969696"/><rect x="123.9" y="455.0" width="3.0" height="3" fill="#e7e7e7"/><rect x="123.9" y="458.0" width="3.0" height="3" fill="#ebebeb"/><rect x="126.9" y="455.0" width="3.0" height="3" fill="#9a9a9a"/><rect x="126.9" y="458.0" width="3.0" height="3" fill="#8b8b8b"/><rect x="129.9" y="455.0" width="3.0" height="3" fill="#cbcbcb"/><rect x="129.9" y="458.0" width="3.0" height="3" fill="#c4c4c4"/><rect x="129.9" y="461.0" width="3.0" height="3" fill="#dcdcdc"/><rect x="132.9" y="455.0" width="3.0" height="3" fill="#c5c5c5"/><rect x="132.9" y="458.0" width="3.0" height="3" fill="#717171"/><rect x="135.9" y="455.0" width="3.0" height="3" fill="#767676"/><rect x="135.9" y="458.0" width="3.0" height="3" fill="#d8d8d8"/><rect x="138.9" y="455.0" width="3.0" height="3" fill="#a8a8a8"/><rect x="138.9" y="458.0" width="3.0" height="3" fill="#b2b2b2"/><rect x="141.9" y="455.0" width="3.0" height="3" fill="#818181"/><rect x="141.9" y="458.0" width="3.0" height="3" fill="#737373"/><rect x="144.9" y="455.0" width="3.0" height="3" fill="#c4c4c4"/><rect x="144.9" y="458.0" width="3.0" height="3" fill="#9d9d9d"/><rect x="33.3" y="485.0" width="3.0" height="3" fill="#e0e0e0"/><rect x="33.3" y="488.0" width="3.0" height="3" fill="#e4e4e4"/><rect x="36.3" y="485.0" width="3.0" height="3" fill="#afafaf"/><rect x="36.3" y="488.0" width="3.0" height="3" fill="#d1d1d1"/><rect x="39.3" y="485.0" width="3.0" height="3" fill="#b7b7b7"/><rect x="39.3" y="488.0" width="3.0" height="3" fill="#ebebeb"/><rect x="42.3" y="485.0" width="3.0" height="3" fill="#dedede"/><rect x="42.3" y="488.0" width="3.0" height="3" fill="#dcdcdc"/><rect x="45.3" y="482.0" width="3.0" height="3" fill="#e2e2e2"/><rect x="45.3" y="485.0" width="3.0" height="3" fill="#dcdcdc"/><rect x="45.3" y="488.0" width="3.0" height="3" fill="#e1e1e1"/><rect x="45.3" y="491.0" width="3.0" height="3" fill="#e2e2e2"/><rect x="48.3" y="485.0" width="3.0" height="3" fill="#c4c4c4"/><rect x="48.3" y="488.0" width="3.0" height="3" fill="#d7d7d7"/><rect x="48.3" y="491.0" width="3.0" height="3" fill="#d9d9d9"/><rect x="51.3" y="482.0" width="3.0" height="3" fill="#d1d1d1"/><rect x="51.3" y="485.0" width="3.0" height="3" fill="#dedede"/><rect x="51.3" y="488.0" width="3.0" height="3" fill="#b4b4b4"/><rect x="54.3" y="485.0" width="3.0" height="3" fill="#afafaf"/><rect x="54.3" y="488.0" width="3.0" height="3" fill="#c9c9c9"/><rect x="57.3" y="485.0" width="3.0" height="3" fill="#dddddd"/><rect x="57.3" y="488.0" width="3.0" height="3" fill="#dbdbdb"/><rect x="60.3" y="485.0" width="3.0" height="3" fill="#c4c4c4"/><rect x="60.3" y="488.0" width="3.0" height="3" fill="#b3b3b3"/><rect x="51.7" y="508.0" width="3.0" height="3" fill="#d8d8d8"/><rect x="51.7" y="511.0" width="3.0" height="3" fill="#dadada"/><rect x="54.7" y="505.0" width="3.0" height="3" fill="#d4d4d4"/><rect x="54.7" y="508.0" width="3.0" height="3" fill="#747474"/><rect x="54.7" y="511.0" width="3.0" height="3" fill="#d2d2d2"/><rect x="57.7" y="508.0" width="3.0" height="3" fill="#b0b0b0"/><rect x="57.7" y="511.0" width="3.0" height="3" fill="#9c9c9c"/><rect x="60.7" y="508.0" width="3.0" height="3" fill="#dbdbdb"/><rect x="60.7" y="511.0" width="3.0" height="3" fill="#d2d2d2"/><rect x="63.7" y="508.0" width="3.0" height="3" fill="#888888"/><rect x="63.7" y="511.0" width="3.0" height="3" fill="#989898"/><rect x="63.7" y="514.0" width="3.0" height="3" fill="#e7e7e7"/><rect x="66.7" y="508.0" width="3.0" height="3" fill="#adadad"/><rect x="66.7" y="511.0" width="3.0" height="3" fill="#adadad"/><rect x="69.7" y="508.0" width="3.0" height="3" fill="#dddddd"/><rect x="69.7" y="511.0" width="3.0" height="3" fill="#8a8a8a"/><rect x="72.7" y="508.0" width="3.0" height="3" fill="#cfcfcf"/><rect x="72.7" y="511.0" width="3.0" height="3" fill="#8e8e8e"/><rect x="75.7" y="508.0" width="3.0" height="3" fill="#777777"/><rect x="75.7" y="511.0" width="3.0" height="3" fill="#a1a1a1"/><rect x="78.7" y="508.0" width="3.0" height="3" fill="#b1b1b1"/><rect x="78.7" y="511.0" width="3.0" height="3" fill="#bdbdbd"/><rect x="78.7" y="514.0" width="3.0" height="3" fill="#e9e9e9"/><rect x="81.7" y="508.0" width="3.0" height="3" fill="#838383"/><rect x="81.7" y="511.0" width="3.0" height="3" fill="#959595"/><rect x="84.7" y="508.0" width="3.0" height="3" fill="#929292"/><rect x="84.7" y="511.0" width="3.0" height="3" fill="#a1a1a1"/><rect x="87.7" y="508.0" width="3.0" height="3" fill="#868686"/><rect x="87.7" y="511.0" width="3.0" height="3" fill="#7e7e7e"/><rect x="90.7" y="508.0" width="3.0" height="3" fill="#d9d9d9"/><rect x="90.7" y="511.0" width="3.0" height="3" fill="#bfbfbf"/><rect x="93.7" y="505.0" width="3.0" height="3" fill="#dddddd"/><rect x="93.7" y="508.0" width="3.0" height="3" fill="#bdbdbd"/><rect x="93.7" y="511.0" width="3.0" height="3" fill="#939393"/><rect x="96.7" y="508.0" width="3.0" height="3" fill="#dedede"/><rect x="96.7" y="511.0" width="3.0" height="3" fill="#c9c9c9"/><rect x="99.7" y="508.0" width="3.0" height="3" fill="#c9c9c9"/><rect x="99.7" y="511.0" width="3.0" height="3" fill="#e3e3e3"/><rect x="99.7" y="514.0" width="3.0" height="3" fill="#dddddd"/><rect x="102.7" y="505.0" width="3.0" height="3" fill="#e7e7e7"/><rect x="102.7" y="508.0" width="3.0" height="3" fill="#d0d0d0"/><rect x="102.7" y="511.0" width="3.0" height="3" fill="#bebebe"/><rect x="105.7" y="508.0" width="3.0" height="3" fill="#b3b3b3"/><rect x="105.7" y="511.0" width="3.0" height="3" fill="#b0b0b0"/><rect x="108.7" y="508.0" width="3.0" height="3" fill="#8b8b8b"/><rect x="108.7" y="511.0" width="3.0" height="3" fill="#aaaaaa"/><rect x="108.7" y="514.0" width="3.0" height="3" fill="#eaeaea"/><rect x="111.7" y="508.0" width="3.0" height="3" fill="#b6b6b6"/><rect x="111.7" y="511.0" width="3.0" height="3" fill="#bebebe"/><rect x="111.7" y="514.0" width="3.0" height="3" fill="#dfdfdf"/><rect x="114.7" y="508.0" width="3.0" height="3" fill="#9d9d9d"/><rect x="114.7" y="511.0" width="3.0" height="3" fill="#acacac"/><rect x="117.7" y="508.0" width="3.0" height="3" fill="#d1d1d1"/><rect x="117.7" y="511.0" width="3.0" height="3" fill="#bdbdbd"/><rect x="117.7" y="514.0" width="3.0" height="3" fill="#e5e5e5"/><rect x="120.7" y="508.0" width="3.0" height="3" fill="#c3c3c3"/><rect x="120.7" y="511.0" width="3.0" height="3" fill="#898989"/><rect x="123.7" y="508.0" width="3.0" height="3" fill="#cdcdcd"/><rect x="123.7" y="511.0" width="3.0" height="3" fill="#9d9d9d"/><rect x="123.7" y="514.0" width="3.0" height="3" fill="#e7e7e7"/><rect x="126.7" y="508.0" width="3.0" height="3" fill="#acacac"/><rect x="126.7" y="511.0" width="3.0" height="3" fill="#888888"/><rect x="129.7" y="505.0" width="3.0" height="3" fill="#dfdfdf"/><rect x="129.7" y="508.0" width="3.0" height="3" fill="#dcdcdc"/><rect x="129.7" y="511.0" width="3.0" height="3" fill="#e0e0e0"/><rect x="132.7" y="508.0" width="3.0" height="3" fill="#c9c9c9"/><rect x="132.7" y="511.0" width="3.0" height="3" fill="#dbdbdb"/><rect x="135.7" y="505.0" width="3.0" height="3" fill="#e4e4e4"/><rect x="135.7" y="508.0" width="3.0" height="3" fill="#a9a9a9"/><rect x="135.7" y="511.0" width="3.0" height="3" fill="#c9c9c9"/><rect x="138.7" y="508.0" width="3.0" height="3" fill="#9f9f9f"/><rect x="138.7" y="511.0" width="3.0" height="3" fill="#a6a6a6"/><rect x="141.7" y="508.0" width="3.0" height="3" fill="#9d9d9d"/><rect x="141.7" y="511.0" width="3.0" height="3" fill="#c3c3c3"/><rect x="141.7" y="514.0" width="3.0" height="3" fill="#e4e4e4"/><rect x="144.7" y="508.0" width="3.0" height="3" fill="#aaaaaa"/><rect x="144.7" y="511.0" width="3.0" height="3" fill="#7d7d7d"/><rect x="147.7" y="505.0" width="3.0" height="3" fill="#dddddd"/><rect x="147.7" y="508.0" width="3.0" height="3" fill="#c9c9c9"/><rect x="147.7" y="511.0" width="3.0" height="3" fill="#8d8d8d"/><rect x="150.7" y="508.0" width="3.0" height="3" fill="#797979"/><rect x="150.7" y="511.0" width="3.0" height="3" fill="#818181"/><rect x="150.7" y="514.0" width="3.0" height="3" fill="#e8e8e8"/><rect x="153.7" y="508.0" width="3.0" height="3" fill="#c4c4c4"/><rect x="153.7" y="511.0" width="3.0" height="3" fill="#808080"/><rect x="156.7" y="508.0" width="3.0" height="3" fill="#797979"/><rect x="156.7" y="511.0" width="3.0" height="3" fill="#a3a3a3"/><rect x="159.7" y="505.0" width="3.0" height="3" fill="#e0e0e0"/><rect x="159.7" y="508.0" width="3.0" height="3" fill="#7e7e7e"/><rect x="159.7" y="511.0" width="3.0" height="3" fill="#c0c0c0"/><rect x="162.7" y="508.0" width="3.0" height="3" fill="#a8a8a8"/><rect x="162.7" y="511.0" width="3.0" height="3" fill="#9f9f9f"/><rect x="165.7" y="508.0" width="3.0" height="3" fill="#eaeaea"/><rect x="165.7" y="511.0" width="3.0" height="3" fill="#e0e0e0"/><rect x="165.7" y="514.0" width="3.0" height="3" fill="#eaeaea"/><rect x="168.7" y="508.0" width="3.0" height="3" fill="#b1b1b1"/><rect x="168.7" y="511.0" width="3.0" height="3" fill="#a3a3a3"/><rect x="168.7" y="514.0" width="3.0" height="3" fill="#dedede"/><rect x="171.7" y="508.0" width="3.0" height="3" fill="#bebebe"/><rect x="171.7" y="511.0" width="3.0" height="3" fill="#a9a9a9"/><rect x="171.7" y="514.0" width="3.0" height="3" fill="#dbdbdb"/><rect x="174.7" y="508.0" width="3.0" height="3" fill="#8f8f8f"/><rect x="174.7" y="511.0" width="3.0" height="3" fill="#dedede"/><rect x="174.7" y="514.0" width="3.0" height="3" fill="#e5e5e5"/><rect x="33.3" y="531.0" width="3.0" height="3" fill="#e4e4e4"/><rect x="33.3" y="534.0" width="3.0" height="3" fill="#dfdfdf"/><rect x="36.3" y="531.0" width="3.0" height="3" fill="#d8d8d8"/><rect x="36.3" y="534.0" width="3.0" height="3" fill="#dfdfdf"/><rect x="36.3" y="537.0" width="3.0" height="3" fill="#dadada"/><rect x="39.3" y="531.0" width="3.0" height="3" fill="#c5c5c5"/><rect x="39.3" y="534.0" width="3.0" height="3" fill="#e2e2e2"/><rect x="42.3" y="531.0" width="3.0" height="3" fill="#d1d1d1"/><rect x="42.3" y="534.0" width="3.0" height="3" fill="#d9d9d9"/><rect x="42.3" y="537.0" width="3.0" height="3" fill="#d7d7d7"/><rect x="45.3" y="531.0" width="3.0" height="3" fill="#e0e0e0"/><rect x="45.3" y="534.0" width="3.0" height="3" fill="#d8d8d8"/><rect x="48.3" y="531.0" width="3.0" height="3" fill="#bcbcbc"/><rect x="48.3" y="534.0" width="3.0" height="3" fill="#d8d8d8"/><rect x="51.3" y="531.0" width="3.0" height="3" fill="#c7c7c7"/><rect x="51.3" y="534.0" width="3.0" height="3" fill="#d5d5d5"/><rect x="54.3" y="531.0" width="3.0" height="3" fill="#c0c0c0"/><rect x="54.3" y="534.0" width="3.0" height="3" fill="#cecece"/><rect x="46.5" y="552.0" width="3.0" height="3" fill="#c9c9c9"/><rect x="46.5" y="555.0" width="3.0" height="3" fill="#e1e1e1"/><rect x="49.5" y="552.0" width="3.0" height="3" fill="#d1d1d1"/><rect x="49.5" y="555.0" width="3.0" height="3" fill="#cccccc"/><rect x="49.5" y="558.0" width="3.0" height="3" fill="#dcdcdc"/><rect x="52.5" y="552.0" width="3.0" height="3" fill="#d7d7d7"/><rect x="52.5" y="555.0" width="3.0" height="3" fill="#e7e7e7"/><rect x="55.5" y="552.0" width="3.0" height="3" fill="#dadada"/><rect x="55.5" y="555.0" width="3.0" height="3" fill="#e2e2e2"/><rect x="58.5" y="549.0" width="3.0" height="3" fill="#d7d7d7"/><rect x="58.5" y="552.0" width="3.0" height="3" fill="#e4e4e4"/><rect x="58.5" y="555.0" width="3.0" height="3" fill="#e6e6e6"/><rect x="58.5" y="558.0" width="3.0" height="3" fill="#dadada"/><rect x="61.5" y="552.0" width="3.0" height="3" fill="#e9e9e9"/><rect x="61.5" y="555.0" width="3.0" height="3" fill="#ededed"/><rect x="64.5" y="552.0" width="3.0" height="3" fill="#dddddd"/><rect x="64.5" y="555.0" width="3.0" height="3" fill="#e8e8e8"/><rect x="67.5" y="552.0" width="3.0" height="3" fill="#dedede"/><rect x="67.5" y="555.0" width="3.0" height="3" fill="#ededed"/><rect x="70.5" y="552.0" width="3.0" height="3" fill="#cfcfcf"/><rect x="70.5" y="555.0" width="3.0" height="3" fill="#f0f0f0"/><rect x="73.5" y="552.0" width="3.0" height="3" fill="#c6c6c6"/><rect x="73.5" y="555.0" width="3.0" height="3" fill="#cccccc"/><rect x="76.5" y="552.0" width="3.0" height="3" fill="#d7d7d7"/><rect x="76.5" y="555.0" width="3.0" height="3" fill="#d2d2d2"/><rect x="79.5" y="552.0" width="3.0" height="3" fill="#e7e7e7"/><rect x="79.5" y="555.0" width="3.0" height="3" fill="#eeeeee"/><rect x="82.5" y="552.0" width="3.0" height="3" fill="#cdcdcd"/><rect x="82.5" y="555.0" width="3.0" height="3" fill="#ececec"/><rect x="82.5" y="558.0" width="3.0" height="3" fill="#d7d7d7"/><rect x="85.5" y="552.0" width="3.0" height="3" fill="#e7e7e7"/><rect x="85.5" y="555.0" width="3.0" height="3" fill="#e8e8e8"/><rect x="85.5" y="558.0" width="3.0" height="3" fill="#ececec"/><rect x="88.5" y="549.0" width="3.0" height="3" fill="#d7d7d7"/><rect x="88.5" y="552.0" width="3.0" height="3" fill="#cecece"/><rect x="88.5" y="555.0" width="3.0" height="3" fill="#d2d2d2"/><rect x="91.5" y="549.0" width="3.0" height="3" fill="#d6d6d6"/><rect x="91.5" y="552.0" width="3.0" height="3" fill="#dcdcdc"/><rect x="91.5" y="555.0" width="3.0" height="3" fill="#dadada"/><rect x="48.0" y="574.5" width="3.0" height="3" fill="#d3d3d3"/><rect x="48.0" y="577.5" width="3.0" height="3" fill="#a8a8a8"/><rect x="48.0" y="580.5" width="3.0" height="3" fill="#e6e6e6"/><rect x="51.0" y="574.5" width="3.0" height="3" fill="#bebebe"/><rect x="51.0" y="577.5" width="3.0" height="3" fill="#d9d9d9"/><rect x="54.0" y="574.5" width="3.0" height="3" fill="#dadada"/><rect x="54.0" y="577.5" width="3.0" height="3" fill="#d6d6d6"/><rect x="57.0" y="574.5" width="3.0" height="3" fill="#a3a3a3"/><rect x="57.0" y="577.5" width="3.0" height="3" fill="#a1a1a1"/><rect x="60.0" y="574.5" width="3.0" height="3" fill="#cbcbcb"/><rect x="60.0" y="577.5" width="3.0" height="3" fill="#b6b6b6"/><rect x="63.0" y="574.5" width="3.0" height="3" fill="#939393"/><rect x="63.0" y="577.5" width="3.0" height="3" fill="#b8b8b8"/><rect x="66.0" y="574.5" width="3.0" height="3" fill="#bbbbbb"/><rect x="66.0" y="577.5" width="3.0" height="3" fill="#e1e1e1"/><rect x="66.0" y="580.5" width="3.0" height="3" fill="#d8d8d8"/><rect x="69.0" y="571.5" width="3.0" height="3" fill="#d6d6d6"/><rect x="69.0" y="574.5" width="3.0" height="3" fill="#949494"/><rect x="69.0" y="577.5" width="3.0" height="3" fill="#c7c7c7"/><rect x="72.0" y="574.5" width="3.0" height="3" fill="#b7b7b7"/><rect x="72.0" y="577.5" width="3.0" height="3" fill="#d6d6d6"/><rect x="72.0" y="580.5" width="3.0" height="3" fill="#e3e3e3"/><rect x="75.0" y="574.5" width="3.0" height="3" fill="#949494"/><rect x="75.0" y="577.5" width="3.0" height="3" fill="#adadad"/><rect x="78.0" y="574.5" width="3.0" height="3" fill="#b7b7b7"/><rect x="78.0" y="577.5" width="3.0" height="3" fill="#a7a7a7"/><rect x="78.0" y="580.5" width="3.0" height="3" fill="#ececec"/><rect x="81.0" y="574.5" width="3.0" height="3" fill="#a6a6a6"/><rect x="81.0" y="577.5" width="3.0" height="3" fill="#bdbdbd"/><rect x="81.0" y="580.5" width="3.0" height="3" fill="#eaeaea"/><rect x="84.0" y="574.5" width="3.0" height="3" fill="#8f8f8f"/><rect x="84.0" y="577.5" width="3.0" height="3" fill="#a9a9a9"/><rect x="87.0" y="571.5" width="3.0" height="3" fill="#e1e1e1"/><rect x="87.0" y="574.5" width="3.0" height="3" fill="#c4c4c4"/><rect x="87.0" y="577.5" width="3.0" height="3" fill="#a4a4a4"/><rect x="87.0" y="580.5" width="3.0" height="3" fill="#dddddd"/><rect x="90.0" y="574.5" width="3.0" height="3" fill="#dddddd"/><rect x="90.0" y="577.5" width="3.0" height="3" fill="#ececec"/><rect x="93.0" y="574.5" width="3.0" height="3" fill="#9a9a9a"/><rect x="93.0" y="577.5" width="3.0" height="3" fill="#e2e2e2"/><rect x="96.0" y="574.5" width="3.0" height="3" fill="#dedede"/><rect x="96.0" y="577.5" width="3.0" height="3" fill="#ababab"/><rect x="99.0" y="574.5" width="3.0" height="3" fill="#a9a9a9"/><rect x="99.0" y="577.5" width="3.0" height="3" fill="#d9d9d9"/><rect x="102.0" y="571.5" width="3.0" height="3" fill="#d1d1d1"/><rect x="102.0" y="574.5" width="3.0" height="3" fill="#bbbbbb"/><rect x="102.0" y="577.5" width="3.0" height="3" fill="#b2b2b2"/><rect x="102.0" y="580.5" width="3.0" height="3" fill="#ebebeb"/><rect x="105.0" y="574.5" width="3.0" height="3" fill="#e6e6e6"/><rect x="105.0" y="577.5" width="3.0" height="3" fill="#e3e3e3"/><rect x="108.0" y="574.5" width="3.0" height="3" fill="#b0b0b0"/><rect x="108.0" y="577.5" width="3.0" height="3" fill="#9a9a9a"/><rect x="111.0" y="574.5" width="3.0" height="3" fill="#cecece"/><rect x="111.0" y="577.5" width="3.0" height="3" fill="#929292"/><rect x="114.0" y="571.5" width="3.0" height="3" fill="#dadada"/><rect x="114.0" y="574.5" width="3.0" height="3" fill="#b0b0b0"/><rect x="114.0" y="577.5" width="3.0" height="3" fill="#979797"/><rect x="117.0" y="574.5" width="3.0" height="3" fill="#a0a0a0"/><rect x="117.0" y="577.5" width="3.0" height="3" fill="#979797"/><rect x="120.0" y="574.5" width="3.0" height="3" fill="#c4c4c4"/><rect x="120.0" y="577.5" width="3.0" height="3" fill="#dcdcdc"/><rect x="123.0" y="574.5" width="3.0" height="3" fill="#dadada"/><rect x="123.0" y="577.5" width="3.0" height="3" fill="#9c9c9c"/><rect x="126.0" y="574.5" width="3.0" height="3" fill="#cbcbcb"/><rect x="126.0" y="577.5" width="3.0" height="3" fill="#d1d1d1"/><rect x="126.0" y="580.5" width="3.0" height="3" fill="#ececec"/><rect x="129.0" y="574.5" width="3.0" height="3" fill="#8b8b8b"/><rect x="129.0" y="577.5" width="3.0" height="3" fill="#b8b8b8"/><rect x="132.0" y="574.5" width="3.0" height="3" fill="#dedede"/><rect x="132.0" y="577.5" width="3.0" height="3" fill="#c9c9c9"/><rect x="135.0" y="574.5" width="3.0" height="3" fill="#d8d8d8"/><rect x="135.0" y="577.5" width="3.0" height="3" fill="#b6b6b6"/><rect x="135.0" y="580.5" width="3.0" height="3" fill="#eaeaea"/><rect x="138.0" y="574.5" width="3.0" height="3" fill="#9d9d9d"/><rect x="138.0" y="577.5" width="3.0" height="3" fill="#a9a9a9"/><rect x="141.0" y="574.5" width="3.0" height="3" fill="#c0c0c0"/><rect x="141.0" y="577.5" width="3.0" height="3" fill="#a7a7a7"/><rect x="144.0" y="574.5" width="3.0" height="3" fill="#e1e1e1"/><rect x="144.0" y="577.5" width="3.0" height="3" fill="#e6e6e6"/><rect x="147.0" y="574.5" width="3.0" height="3" fill="#bbbbbb"/><rect x="147.0" y="577.5" width="3.0" height="3" fill="#acacac"/><rect x="147.0" y="580.5" width="3.0" height="3" fill="#e6e6e6"/><rect x="150.0" y="574.5" width="3.0" height="3" fill="#c2c2c2"/><rect x="150.0" y="577.5" width="3.0" height="3" fill="#dddddd"/><rect x="153.0" y="574.5" width="3.0" height="3" fill="#d7d7d7"/><rect x="153.0" y="577.5" width="3.0" height="3" fill="#cccccc"/><rect x="156.0" y="574.5" width="3.0" height="3" fill="#e2e2e2"/><rect x="156.0" y="577.5" width="3.0" height="3" fill="#e7e7e7"/><rect x="159.0" y="571.5" width="3.0" height="3" fill="#eeeeee"/><rect x="159.0" y="574.5" width="3.0" height="3" fill="#bdbdbd"/><rect x="159.0" y="577.5" width="3.0" height="3" fill="#c5c5c5"/><rect x="162.0" y="574.5" width="3.0" height="3" fill="#bfbfbf"/><rect x="162.0" y="577.5" width="3.0" height="3" fill="#d1d1d1"/><rect x="165.0" y="574.5" width="3.0" height="3" fill="#d1d1d1"/><rect x="165.0" y="577.5" width="3.0" height="3" fill="#c9c9c9"/><rect x="168.0" y="574.5" width="3.0" height="3" fill="#c4c4c4"/><rect x="168.0" y="577.5" width="3.0" height="3" fill="#eaeaea"/><rect x="171.0" y="574.5" width="3.0" height="3" fill="#d2d2d2"/><rect x="171.0" y="577.5" width="3.0" height="3" fill="#e4e4e4"/><rect x="174.0" y="574.5" width="3.0" height="3" fill="#d2d2d2"/><rect x="174.0" y="577.5" width="3.0" height="3" fill="#d6d6d6"/><rect x="174.0" y="580.5" width="3.0" height="3" fill="#f1f1f1"/><rect x="177.0" y="571.5" width="3.0" height="3" fill="#eaeaea"/><rect x="177.0" y="574.5" width="3.0" height="3" fill="#e5e5e5"/><rect x="177.0" y="577.5" width="3.0" height="3" fill="#e3e3e3"/><rect x="177.0" y="580.5" width="3.0" height="3" fill="#f1f1f1"/><rect x="180.0" y="574.5" width="3.0" height="3" fill="#e0e0e0"/><rect x="180.0" y="577.5" width="3.0" height="3" fill="#dadada"/><rect x="183.0" y="574.5" width="3.0" height="3" fill="#efefef"/><rect x="183.0" y="577.5" width="3.0" height="3" fill="#e2e2e2"/><rect x="64.0" y="598.5" width="3.0" height="3" fill="#acacac"/><rect x="64.0" y="601.5" width="3.0" height="3" fill="#b4b4b4"/><rect x="64.0" y="604.5" width="3.0" height="3" fill="#d6d6d6"/><rect x="67.0" y="598.5" width="3.0" height="3" fill="#a8a8a8"/><rect x="67.0" y="601.5" width="3.0" height="3" fill="#dadada"/><rect x="67.0" y="604.5" width="3.0" height="3" fill="#e0e0e0"/><rect x="70.0" y="598.5" width="3.0" height="3" fill="#6b6b6b"/><rect x="70.0" y="601.5" width="3.0" height="3" fill="#969696"/><rect x="73.0" y="598.5" width="3.0" height="3" fill="#a1a1a1"/><rect x="73.0" y="601.5" width="3.0" height="3" fill="#7d7d7d"/><rect x="76.0" y="598.5" width="3.0" height="3" fill="#7c7c7c"/><rect x="76.0" y="601.5" width="3.0" height="3" fill="#cacaca"/><rect x="79.0" y="598.5" width="3.0" height="3" fill="#e1e1e1"/><rect x="79.0" y="601.5" width="3.0" height="3" fill="#e6e6e6"/><rect x="82.0" y="598.5" width="3.0" height="3" fill="#7d7d7d"/><rect x="82.0" y="601.5" width="3.0" height="3" fill="#7a7a7a"/><rect x="85.0" y="598.5" width="3.0" height="3" fill="#b9b9b9"/><rect x="85.0" y="601.5" width="3.0" height="3" fill="#aaaaaa"/><rect x="88.0" y="598.5" width="3.0" height="3" fill="#c2c2c2"/><rect x="88.0" y="601.5" width="3.0" height="3" fill="#b7b7b7"/><rect x="91.0" y="598.5" width="3.0" height="3" fill="#757575"/><rect x="91.0" y="601.5" width="3.0" height="3" fill="#b2b2b2"/><rect x="94.0" y="598.5" width="3.0" height="3" fill="#c0c0c0"/><rect x="94.0" y="601.5" width="3.0" height="3" fill="#a6a6a6"/><rect x="97.0" y="598.5" width="3.0" height="3" fill="#acacac"/><rect x="97.0" y="601.5" width="3.0" height="3" fill="#777777"/><rect x="97.0" y="604.5" width="3.0" height="3" fill="#ececec"/><rect x="100.0" y="598.5" width="3.0" height="3" fill="#696969"/><rect x="100.0" y="601.5" width="3.0" height="3" fill="#b8b8b8"/><rect x="103.0" y="595.5" width="3.0" height="3" fill="#d4d4d4"/><rect x="103.0" y="598.5" width="3.0" height="3" fill="#d5d5d5"/><rect x="103.0" y="601.5" width="3.0" height="3" fill="#dbdbdb"/><rect x="103.0" y="604.5" width="3.0" height="3" fill="#d7d7d7"/><rect x="106.0" y="598.5" width="3.0" height="3" fill="#c3c3c3"/><rect x="106.0" y="601.5" width="3.0" height="3" fill="#d2d2d2"/><rect x="109.0" y="598.5" width="3.0" height="3" fill="#939393"/><rect x="109.0" y="601.5" width="3.0" height="3" fill="#afafaf"/><rect x="112.0" y="595.5" width="3.0" height="3" fill="#e3e3e3"/><rect x="112.0" y="598.5" width="3.0" height="3" fill="#919191"/><rect x="112.0" y="601.5" width="3.0" height="3" fill="#d2d2d2"/><rect x="115.0" y="598.5" width="3.0" height="3" fill="#dadada"/><rect x="115.0" y="601.5" width="3.0" height="3" fill="#e6e6e6"/><rect x="118.0" y="598.5" width="3.0" height="3" fill="#858585"/><rect x="118.0" y="601.5" width="3.0" height="3" fill="#b2b2b2"/><rect x="121.0" y="598.5" width="3.0" height="3" fill="#afafaf"/><rect x="121.0" y="601.5" width="3.0" height="3" fill="#b0b0b0"/><rect x="124.0" y="598.5" width="3.0" height="3" fill="#676767"/><rect x="124.0" y="601.5" width="3.0" height="3" fill="#7f7f7f"/><rect x="127.0" y="595.5" width="3.0" height="3" fill="#eaeaea"/><rect x="127.0" y="598.5" width="3.0" height="3" fill="#7b7b7b"/><rect x="127.0" y="601.5" width="3.0" height="3" fill="#bebebe"/><rect x="130.0" y="598.5" width="3.0" height="3" fill="#d0d0d0"/><rect x="130.0" y="601.5" width="3.0" height="3" fill="#898989"/><rect x="133.0" y="595.5" width="3.0" height="3" fill="#dadada"/><rect x="133.0" y="598.5" width="3.0" height="3" fill="#8b8b8b"/><rect x="133.0" y="601.5" width="3.0" height="3" fill="#b7b7b7"/><rect x="136.0" y="598.5" width="3.0" height="3" fill="#8e8e8e"/><rect x="136.0" y="601.5" width="3.0" height="3" fill="#9d9d9d"/><rect x="139.0" y="598.5" width="3.0" height="3" fill="#818181"/><rect x="139.0" y="601.5" width="3.0" height="3" fill="#a6a6a6"/><rect x="142.0" y="598.5" width="3.0" height="3" fill="#777777"/><rect x="142.0" y="601.5" width="3.0" height="3" fill="#8e8e8e"/><rect x="142.0" y="604.5" width="3.0" height="3" fill="#dcdcdc"/><rect x="145.0" y="598.5" width="3.0" height="3" fill="#7c7c7c"/><rect x="145.0" y="601.5" width="3.0" height="3" fill="#777777"/><rect x="148.0" y="595.5" width="3.0" height="3" fill="#d9d9d9"/><rect x="148.0" y="598.5" width="3.0" height="3" fill="#bbbbbb"/><rect x="148.0" y="601.5" width="3.0" height="3" fill="#848484"/><rect x="151.0" y="598.5" width="3.0" height="3" fill="#898989"/><rect x="151.0" y="601.5" width="3.0" height="3" fill="#a1a1a1"/><rect x="154.0" y="598.5" width="3.0" height="3" fill="#999999"/><rect x="154.0" y="601.5" width="3.0" height="3" fill="#bfbfbf"/><rect x="157.0" y="598.5" width="3.0" height="3" fill="#dddddd"/><rect x="157.0" y="601.5" width="3.0" height="3" fill="#bbbbbb"/><rect x="160.0" y="598.5" width="3.0" height="3" fill="#9b9b9b"/><rect x="160.0" y="601.5" width="3.0" height="3" fill="#949494"/><rect x="163.0" y="598.5" width="3.0" height="3" fill="#d6d6d6"/><rect x="163.0" y="601.5" width="3.0" height="3" fill="#a8a8a8"/><rect x="166.0" y="598.5" width="3.0" height="3" fill="#c9c9c9"/><rect x="166.0" y="601.5" width="3.0" height="3" fill="#bbbbbb"/><rect x="166.0" y="604.5" width="3.0" height="3" fill="#e5e5e5"/><rect x="169.0" y="595.5" width="3.0" height="3" fill="#e3e3e3"/><rect x="169.0" y="598.5" width="3.0" height="3" fill="#bcbcbc"/><rect x="169.0" y="601.5" width="3.0" height="3" fill="#c1c1c1"/><rect x="172.0" y="598.5" width="3.0" height="3" fill="#e1e1e1"/><rect x="172.0" y="601.5" width="3.0" height="3" fill="#b9b9b9"/><rect x="175.0" y="595.5" width="3.0" height="3" fill="#e6e6e6"/><rect x="175.0" y="598.5" width="3.0" height="3" fill="#bebebe"/><rect x="175.0" y="601.5" width="3.0" height="3" fill="#c1c1c1"/><rect x="175.0" y="604.5" width="3.0" height="3" fill="#ececec"/><rect x="178.0" y="598.5" width="3.0" height="3" fill="#dadada"/><rect x="178.0" y="601.5" width="3.0" height="3" fill="#c7c7c7"/><rect x="181.0" y="598.5" width="3.0" height="3" fill="#e6e6e6"/><rect x="181.0" y="601.5" width="3.0" height="3" fill="#dddddd"/><rect x="184.0" y="598.5" width="3.0" height="3" fill="#ebebeb"/><rect x="184.0" y="601.5" width="3.0" height="3" fill="#d5d5d5"/><rect x="187.0" y="598.5" width="3.0" height="3" fill="#e4e4e4"/><rect x="187.0" y="601.5" width="3.0" height="3" fill="#e5e5e5"/><rect x="190.0" y="595.5" width="3.0" height="3" fill="#f0f0f0"/><rect x="190.0" y="598.5" width="3.0" height="3" fill="#d5d5d5"/><rect x="190.0" y="601.5" width="3.0" height="3" fill="#dfdfdf"/></svg>
<svg width="1024" height="648" shape-rendering="crispEdges" style="filter:blur(0.5px)"><rect x="34.5" y="347.6" width="14" height="14.5" rx="7" fill="#fcfcfc"/><rect x="36.6" y="350.6" width="3.1" height="3" fill="#a8a8a8"/><rect x="39.7" y="350.6" width="3.1" height="3" fill="#b5b5b5"/><rect x="42.8" y="350.6" width="3.1" height="3" fill="#8b8b8b"/><rect x="36.6" y="353.6" width="3.1" height="3" fill="#c3c3c3"/><rect x="39.7" y="353.6" width="3.1" height="3" fill="#a7a7a7"/><rect x="42.8" y="353.6" width="3.1" height="3" fill="#8e8e8e"/><rect x="36.6" y="356.6" width="3.1" height="3" fill="#9c9c9c"/><rect x="39.7" y="356.6" width="3.1" height="3" fill="#969696"/><rect x="42.8" y="356.6" width="3.1" height="3" fill="#b7b7b7"/><rect x="34.5" y="374.0" width="14" height="14.5" rx="7" fill="#fcfcfc"/><rect x="36.6" y="377.0" width="3.1" height="3" fill="#848484"/><rect x="39.7" y="377.0" width="3.1" height="3" fill="#676767"/><rect x="42.8" y="377.0" width="3.1" height="3" fill="#787878"/><rect x="36.6" y="380.0" width="3.1" height="3" fill="#555555"/><rect x="39.7" y="380.0" width="3.1" height="3" fill="#676767"/><rect x="42.8" y="380.0" width="3.1" height="3" fill="#494949"/><rect x="34.5" y="399.2" width="14" height="14.5" rx="7" fill="#fcfcfc"/><rect x="36.6" y="402.2" width="3.1" height="3" fill="#939393"/><rect x="39.7" y="402.2" width="3.1" height="3" fill="#acacac"/><rect x="42.8" y="402.2" width="3.1" height="3" fill="#9b9b9b"/><rect x="36.6" y="405.2" width="3.1" height="3" fill="#8f8f8f"/><rect x="39.7" y="405.2" width="3.1" height="3" fill="#a9a9a9"/><rect x="42.8" y="405.2" width="3.1" height="3" fill="#8c8c8c"/><rect x="36.6" y="408.2" width="3.1" height="3" fill="#818181"/><rect x="39.7" y="408.2" width="3.1" height="3" fill="#898989"/><rect x="42.8" y="408.2" width="3.1" height="3" fill="#b0b0b0"/><rect x="34.5" y="425.8" width="14" height="14.5" rx="7" fill="#fcfcfc"/><rect x="36.6" y="428.8" width="3.1" height="3" fill="#585858"/><rect x="39.7" y="428.8" width="3.1" height="3" fill="#585858"/><rect x="42.8" y="428.8" width="3.1" height="3" fill="#484848"/><rect x="36.6" y="431.8" width="3.1" height="3" fill="#484848"/><rect x="39.7" y="431.8" width="3.1" height="3" fill="#626262"/><rect x="42.8" y="431.8" width="3.1" height="3" fill="#636363"/><rect x="34.5" y="450.6" width="14" height="14.5" rx="7" fill="#fcfcfc"/><rect x="36.6" y="453.6" width="3.1" height="3" fill="#9d9d9d"/><rect x="39.7" y="453.6" width="3.1" height="3" fill="#9d9d9d"/><rect x="42.8" y="453.6" width="3.1" height="3" fill="#adadad"/><rect x="36.6" y="456.6" width="3.1" height="3" fill="#b0b0b0"/><rect x="39.7" y="456.6" width="3.1" height="3" fill="#a1a1a1"/><rect x="42.8" y="456.6" width="3.1" height="3" fill="#a2a2a2"/><rect x="36.6" y="459.6" width="3.1" height="3" fill="#9f9f9f"/><rect x="39.7" y="459.6" width="3.1" height="3" fill="#a1a1a1"/><rect x="42.8" y="459.6" width="3.1" height="3" fill="#b9b9b9"/></svg>
<div class="ic" style="left:94.3px;top:350px;width:78.8px;height:17.7px;background:#a3a3a3;filter:blur(0.5px)"></div>
<div class="ic" style="left:96.6px;top:352.8px;width:73.7px;height:12.1px;background:#3b3b3b;filter:blur(0.3px)"></div>
<svg width="1024" height="648" shape-rendering="crispEdges" style="filter:blur(0.4px)"><rect x="99.80" y="355.60" width="3.06" height="3.25" fill="#b4b4b4"/><rect x="99.80" y="358.85" width="3.06" height="3.25" fill="#cfcfcf"/><rect x="102.86" y="355.60" width="3.06" height="3.25" fill="#bbbbbb"/><rect x="102.86" y="358.85" width="3.06" height="3.25" fill="#cecece"/><rect x="105.92" y="355.60" width="3.06" height="3.25" fill="#c9c9c9"/><rect x="105.92" y="358.85" width="3.06" height="3.25" fill="#b5b5b5"/><rect x="108.98" y="355.60" width="3.06" height="3.25" fill="#b4b4b4"/><rect x="108.98" y="358.85" width="3.06" height="3.25" fill="#b8b8b8"/><rect x="112.04" y="355.60" width="3.06" height="3.25" fill="#cecece"/><rect x="112.04" y="358.85" width="3.06" height="3.25" fill="#bdbdbd"/><rect x="115.10" y="355.60" width="3.06" height="3.25" fill="#606060"/><rect x="115.10" y="358.85" width="3.06" height="3.25" fill="#606060"/><rect x="118.16" y="355.60" width="3.06" height="3.25" fill="#a4a4a4"/><rect x="118.16" y="358.85" width="3.06" height="3.25" fill="#a3a3a3"/><rect x="121.22" y="355.60" width="3.06" height="3.25" fill="#cbcbcb"/><rect x="121.22" y="358.85" width="3.06" height="3.25" fill="#b8b8b8"/><rect x="124.28" y="355.60" width="3.06" height="3.25" fill="#b6b6b6"/><rect x="124.28" y="358.85" width="3.06" height="3.25" fill="#c0c0c0"/><rect x="127.34" y="355.60" width="3.06" height="3.25" fill="#bfbfbf"/><rect x="127.34" y="358.85" width="3.06" height="3.25" fill="#cacaca"/><rect x="130.40" y="355.60" width="3.06" height="3.25" fill="#a3a3a3"/><rect x="130.40" y="358.85" width="3.06" height="3.25" fill="#9e9e9e"/><rect x="133.46" y="355.60" width="3.06" height="3.25" fill="#b4b4b4"/><rect x="133.46" y="358.85" width="3.06" height="3.25" fill="#ababab"/><rect x="136.52" y="355.60" width="3.06" height="3.25" fill="#a1a1a1"/><rect x="136.52" y="358.85" width="3.06" height="3.25" fill="#9d9d9d"/><rect x="139.58" y="355.60" width="3.06" height="3.25" fill="#bababa"/><rect x="139.58" y="358.85" width="3.06" height="3.25" fill="#cbcbcb"/><rect x="142.64" y="355.60" width="3.06" height="3.25" fill="#d0d0d0"/><rect x="142.64" y="358.85" width="3.06" height="3.25" fill="#c4c4c4"/><rect x="145.70" y="355.60" width="3.06" height="3.25" fill="#c0c0c0"/><rect x="145.70" y="358.85" width="3.06" height="3.25" fill="#9a9a9a"/><rect x="148.76" y="355.60" width="3.06" height="3.25" fill="#bebebe"/><rect x="148.76" y="358.85" width="3.06" height="3.25" fill="#b1b1b1"/><rect x="151.82" y="355.60" width="3.06" height="3.25" fill="#b4b4b4"/><rect x="151.82" y="358.85" width="3.06" height="3.25" fill="#c1c1c1"/><rect x="154.88" y="355.60" width="3.06" height="3.25" fill="#c7c7c7"/><rect x="154.88" y="358.85" width="3.06" height="3.25" fill="#bfbfbf"/><rect x="157.94" y="355.60" width="3.06" height="3.25" fill="#c1c1c1"/><rect x="157.94" y="358.85" width="3.06" height="3.25" fill="#a2a2a2"/><rect x="161.00" y="355.60" width="3.06" height="3.25" fill="#bfbfbf"/><rect x="161.00" y="358.85" width="3.06" height="3.25" fill="#989898"/><rect x="164.06" y="355.60" width="3.06" height="3.25" fill="#cdcdcd"/><rect x="164.06" y="358.85" width="3.06" height="3.25" fill="#b9b9b9"/></svg>
<div class="ic blur" style="left:37px;top:507px;width:4px;height:6px;background:#bbb;opacity:0.8"></div>
<div class="ic blur" style="left:37px;top:554px;width:2.5px;height:2.5px;background:#999"></div>
<div class="ic" style="left:34.5px;top:568px;width:1px;height:60px;background:#e6e6e6"></div>
<div class="ic" style="left:48px;top:596.3px;width:13px;height:9.4px;background:linear-gradient(#8a8a8a 0,#7a6a6a 2.4px,#e02222 2.6px,#e02222 6.2px,#f4b61c 6.4px);filter:blur(0.4px)"></div>
<div class="ic" style="left:47.8px;top:622.3px;width:13.4px;height:8px;border-radius:45% 45% 30% 30%;background:linear-gradient(160deg,#f7c23c,#eaa21e);filter:blur(0.3px)"></div>
<div class="t" style="left:64.50px;top:622.43px;font-size:11.2px;letter-spacing:-0.036px;color:#333;">Erstgespräch Automatisi</div>
<div class="t" style="left:234.00px;top:22.48px;font-size:14.2px;letter-spacing:-0.052px;color:#383838;">gpt-4.1-mini</div>
<svg width="1024" height="648" fill="none" stroke="#666" stroke-width="1" stroke-linecap="round" stroke-linejoin="round">
<path d="M316.9 28.4 L319.5 31 L322.1 28.4" stroke="#555" stroke-width="1.1"/>
<path d="M336.5 26.4 V32.8 M333.3 29.6 H339.7"/>
</svg>
<svg width="1024" height="648" fill="#4a4a4a"><circle cx="925.1" cy="29.7" r="1"/><circle cx="929" cy="29.7" r="1"/><circle cx="932.8" cy="29.7" r="1"/></svg>
<svg width="1024" height="648" fill="none" stroke="#b4b4b4" stroke-width="1.4" stroke-linecap="round">
<path d="M951.4 25.7 H961.4 M951.4 29.5 H961.4 M951.4 33.45 H961.4"/>
<g fill="#c4c4c4" stroke="#7a7a7a" stroke-width="0.8"><ellipse cx="954.5" cy="25.7" rx="1.3" ry="1.35"/><ellipse cx="958.2" cy="29.5" rx="1.3" ry="1.35"/><ellipse cx="954.5" cy="33.45" rx="1.3" ry="1.35"/></g>
</svg>
<svg width="1024" height="648"><defs><clipPath id="av"><circle cx="983.75" cy="29.4" r="8.9"/></clipPath><filter id="avb" x="-20%" y="-20%" width="140%" height="140%"><feGaussianBlur stdDeviation="0.35"/></filter></defs>
<circle cx="983.75" cy="29.4" r="8.9" fill="#131b27"/>
<g clip-path="url(#av)"><g filter="url(#avb)">
<path d="M976 40 L977.6 35.6 L981.4 33.8 L986.2 33.8 L990 35.6 L991.5 40 Z" fill="#1f3454"/>
<path d="M980.8 40 L981.6 33.6 L986 33.6 L986.8 40 Z" fill="#e7e3e1"/>
<ellipse cx="983.8" cy="28.4" rx="3.9" ry="5" fill="#d9a08f"/>
<path d="M979.9 27 Q979.8 22.6 983.8 22.6 Q987.8 22.6 987.7 27 Q986.5 24.6 983.8 24.6 Q981.1 24.6 979.9 27 Z" fill="#93674f"/>
<rect x="979.9" y="26" width="7.8" height="1.6" fill="#8b7d86"/>
<ellipse cx="983.8" cy="32.3" rx="2.6" ry="1.2" fill="#b98172" opacity="0.6"/>
</g></g></svg>
<div class="ic" style="left:239px;top:66px;width:18px;height:18px;border-radius:50%;background:#fff"></div>
<svg width="1024" height="648"><g transform="translate(240.75,72.5) scale(1.31)"><circle cx="3.8" cy="3.85" r="3.1" fill="none" stroke="#000" stroke-width="1.45"/><rect x="8.75" y="0" width="1.3" height="7.7" rx="0.6" fill="#000"/></g></svg>
<div class="t" style="left:272.20px;top:64.99px;font-size:13.6px;letter-spacing:-0.073px;color:#111;-webkit-text-stroke:0.55px #111;">gpt-4.1-mini</div>
<div class="ic" style="left:272px;top:82px;width:712px;height:600px;border:1px solid #ececec;border-radius:15px"></div>
<div class="ic" style="left:901.3px;top:90.2px;width:22px;height:22.7px;border:1px solid #f0f0f0;border-radius:7px;background:#fff"></div>
<div class="ic" style="left:927px;top:90.2px;width:22px;height:22.7px;border:1px solid #f0f0f0;border-radius:7px;background:#fff"></div>
<div class="ic" style="left:952.7px;top:90.2px;width:22px;height:22.7px;border:1px solid #f0f0f0;border-radius:7px;background:#fff"></div>
<svg width="1024" height="648" fill="none" stroke="#333" stroke-linecap="round" stroke-linejoin="round">
<path d="M912.2 97.4 V102.6" stroke-width="1.1"/><path d="M910.2 101.8 L912.2 103.8 L914.2 101.8 Z" fill="#333" stroke-width="0.6"/>
<path d="M909.3 105.9 H915.3" stroke="#9a9a9a" stroke-width="1.5" stroke-linecap="butt"/>
<g stroke-width="1.3"><path d="M934.2 100.6 A4.3 4.3 0 0 1 941.6 99.6"/><path d="M942 103.3 A4.3 4.3 0 0 1 934.6 104.4"/></g>
<path d="M943.1 97.5 V100.7 H939.9 Z" fill="#333" stroke-width="0.5"/><path d="M933.3 106.6 V103.3 H936.5 Z" fill="#333" stroke-width="0.5"/>
<rect x="959.9" y="97.9" width="7.9" height="8.9" rx="1.3" stroke="#555" stroke-width="1.35"/>
<rect x="961.6" y="96.4" width="4.5" height="2" rx="1" fill="#ddd" stroke="#666" stroke-width="0.8"/>
</svg>
<svg width="1024" height="648" font-family="Liberation Sans, sans-serif">
<defs><marker id="ah" viewBox="0 0 10 10" refX="10" refY="5" markerWidth="7" markerHeight="7" markerUnits="userSpaceOnUse" orient="auto"><path d="M0 0 L10 5 L0 10 Z" fill="#333"/></marker></defs>
<g fill="#e8e8fd" stroke="#9370db" stroke-width="1">
<circle cx="486.1" cy="123.6" r="22.4"/>
<path d="M390.3 204.5 A95.8 14.2 0 0 1 581.9 204.5 V274.5 A95.8 14.2 0 0 1 390.3 274.5 Z"/>
<path d="M390.3 204.5 A95.8 14.2 0 0 0 581.9 204.5" fill="none"/>
<rect x="296.2" y="332.7" width="155.6" height="48.4"/>
<rect x="495.8" y="339.4" width="205.2" height="34.8"/>
<path d="M503.3 339.4 V374.2 M693.4 339.4 V374.2" fill="none"/>
<rect x="482.8" y="425.4" width="231" height="68.6"/>
<rect x="482.8" y="538.8" width="231" height="120"/>
</g>
<g fill="none" stroke="#333" stroke-width="1">
<path d="M486.3 146 V190" marker-end="url(#ah)"/>
<path d="M408.8 283 C392 296 374.2 306 374.2 322 V332.7" marker-end="url(#ah)"/>
<path d="M563.8 283 C580 296 598.9 310 598.9 325 V339.4" marker-end="url(#ah)"/>
<path d="M598.9 374.2 V425.4" marker-end="url(#ah)"/>
<path d="M598.7 494 V538.8" marker-end="url(#ah)"/>
</g>
<text x="470.00" y="129.80" font-size="14.2" textLength="32.20" lengthAdjust="spacingAndGlyphs" fill="#333" stroke="#333" stroke-width="0.28">Start</text>
<text x="399.70" y="244.00" font-size="14.2" textLength="172.80" lengthAdjust="spacingAndGlyphs" fill="#333" stroke="#333" stroke-width="0.28">Buchung Erstberatung über</text>
<text x="416.85" y="268.50" font-size="14.2" textLength="138.90" lengthAdjust="spacingAndGlyphs" fill="#333" stroke="#333" stroke-width="0.28">Website oder cal.com</text>
<text x="323.00" y="363.20" font-size="14.2" textLength="102.00" lengthAdjust="spacingAndGlyphs" fill="#333" stroke="#333" stroke-width="0.28">E-Mail generiert</text>
<text x="509.70" y="363.50" font-size="14.2" textLength="177.60" lengthAdjust="spacingAndGlyphs" fill="#333" stroke="#333" stroke-width="0.28">Webhook in n8n angestoßen</text>
<text x="517.45" y="455.40" font-size="14.2" textLength="162.10" lengthAdjust="spacingAndGlyphs" fill="#333" stroke="#333" stroke-width="0.28">Webhook prüft Firma und</text>
<svg width="1024" height="481.2" style="overflow:hidden"><text x="545.10" y="480.40" font-size="14.2" textLength="106.40" lengthAdjust="spacingAndGlyphs" fill="#333" stroke="#333" stroke-width="0.28">Ansprechpartner</text>
</svg><text x="527.45" y="569.80" font-size="14.2" textLength="142.30" lengthAdjust="spacingAndGlyphs" fill="#333" stroke="#333" stroke-width="0.28">Webhook prüft E-Mail-</text>
<text x="522.65" y="593.80" font-size="14.2" textLength="151.30" lengthAdjust="spacingAndGlyphs" fill="#333" stroke="#333" stroke-width="0.28">Adresse im CRM-System</text>
</svg>
<svg width="1024" height="616.4" style="overflow:hidden" font-family="Liberation Sans, sans-serif"><text x="566.10" y="619.00" font-size="14.2" textLength="64.40" lengthAdjust="spacingAndGlyphs" fill="#333" stroke="#333" stroke-width="0.28">(Redmine)</text>
</svg>
<div class="ic" style="left:600.4px;top:598.9px;width:24.7px;height:24.7px;border-radius:50%;background:#fff;box-shadow:0 0 1px rgba(0,0,0,0.08)"></div>
<svg width="1024" height="648" fill="none" stroke="#3a3a3a" stroke-width="1.35" stroke-linecap="round" stroke-linejoin="round"><path d="M612.75 606.4 V616 M608.4 611.7 L612.75 616.1 L617.1 611.7"/></svg>
</div></div>
</body></html>
